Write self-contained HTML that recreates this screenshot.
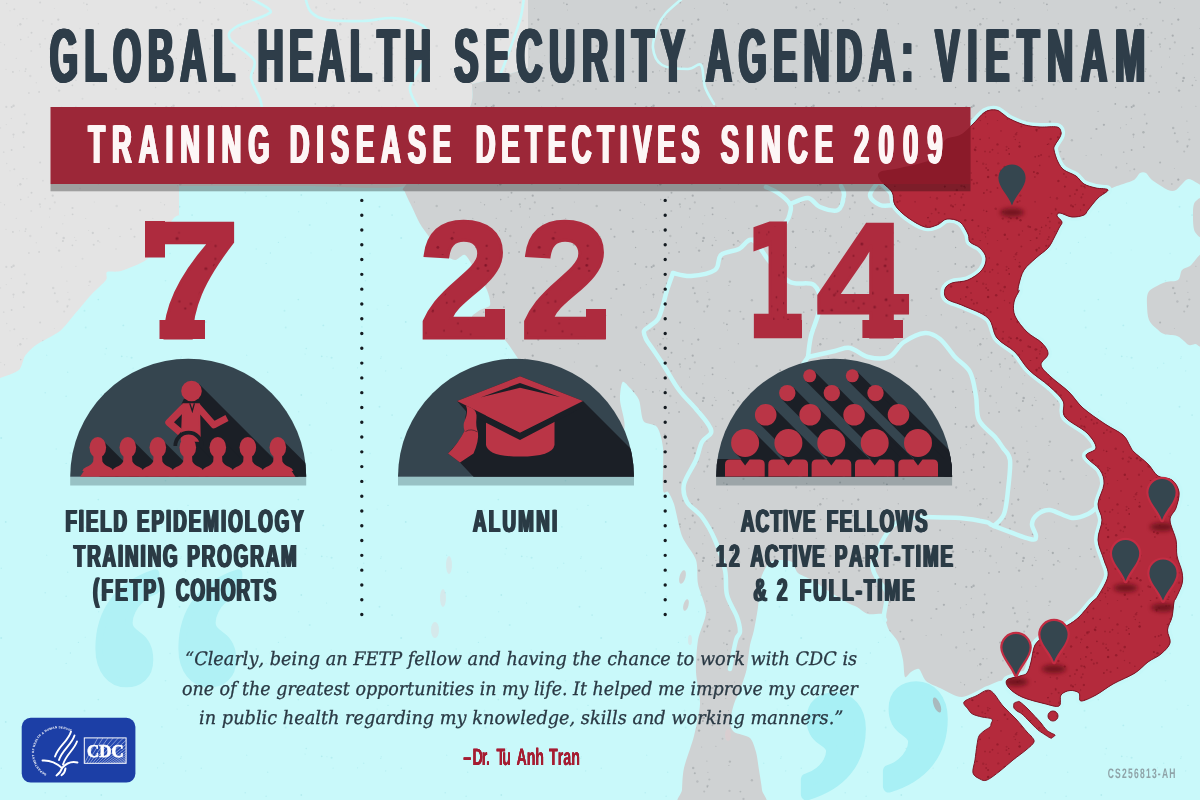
<!DOCTYPE html>
<html lang="en"><head><meta charset="utf-8"><title>Global Health Security Agenda: Vietnam</title>
<style>
html,body{margin:0;padding:0;background:#c9f9fa;}
body{width:1200px;height:800px;overflow:hidden;position:relative;font-family:"Liberation Sans",sans-serif;}
svg{position:absolute;left:0;top:0;display:block}
text{font-kerning:none;text-rendering:geometricPrecision}
.cb{font-family:"Liberation Sans",sans-serif;font-weight:bold}
.num{font-family:"DejaVu Serif","Liberation Serif",serif;font-weight:bold}
.q{font-family:"DejaVu Serif","Liberation Serif",serif;font-style:italic}
</style></head><body>
<svg width="1200" height="800" viewBox="0 0 1200 800">

<defs>
<pattern id="spk" width="160" height="160" patternUnits="userSpaceOnUse"><circle cx="51.8" cy="24.1" r="0.99" fill="#9a9fa2" opacity="0.40"/><circle cx="85.7" cy="58.5" r="0.54" fill="#9a9fa2" opacity="0.57"/><circle cx="6.0" cy="69.4" r="0.55" fill="#9a9fa2" opacity="0.41"/><circle cx="67.9" cy="132.3" r="0.59" fill="#9a9fa2" opacity="0.46"/><circle cx="100.4" cy="151.6" r="0.93" fill="#9a9fa2" opacity="0.52"/><circle cx="156.2" cy="7.5" r="1.14" fill="#9a9fa2" opacity="0.48"/><circle cx="23.1" cy="18.8" r="0.73" fill="#9a9fa2" opacity="0.68"/><circle cx="28.9" cy="93.1" r="0.98" fill="#9a9fa2" opacity="0.51"/><circle cx="87.6" cy="10.0" r="0.54" fill="#9a9fa2" opacity="0.45"/><circle cx="108.9" cy="68.4" r="0.74" fill="#9a9fa2" opacity="0.59"/><circle cx="72.5" cy="48.0" r="1.10" fill="#9a9fa2" opacity="0.64"/><circle cx="39.1" cy="91.9" r="0.89" fill="#9a9fa2" opacity="0.70"/><circle cx="116.7" cy="46.1" r="1.24" fill="#9a9fa2" opacity="0.42"/><circle cx="66.9" cy="121.1" r="0.61" fill="#9a9fa2" opacity="0.56"/><circle cx="6.3" cy="106.9" r="1.07" fill="#9a9fa2" opacity="0.59"/><circle cx="140.1" cy="50.2" r="1.02" fill="#9a9fa2" opacity="0.60"/><circle cx="92.8" cy="73.0" r="1.13" fill="#9a9fa2" opacity="0.73"/><circle cx="75.9" cy="106.3" r="0.55" fill="#9a9fa2" opacity="0.64"/><circle cx="103.5" cy="158.9" r="1.12" fill="#9a9fa2" opacity="0.48"/><circle cx="61.7" cy="107.0" r="0.52" fill="#9a9fa2" opacity="0.55"/><circle cx="26.9" cy="18.7" r="0.54" fill="#9a9fa2" opacity="0.66"/><circle cx="20.7" cy="39.6" r="0.79" fill="#9a9fa2" opacity="0.70"/><circle cx="12.9" cy="71.9" r="0.91" fill="#9a9fa2" opacity="0.71"/><circle cx="131.1" cy="138.2" r="0.71" fill="#9a9fa2" opacity="0.53"/><circle cx="57.4" cy="141.5" r="1.22" fill="#9a9fa2" opacity="0.43"/><circle cx="28.2" cy="37.1" r="0.68" fill="#9a9fa2" opacity="0.56"/><circle cx="94.3" cy="42.0" r="0.50" fill="#9a9fa2" opacity="0.53"/><circle cx="59.1" cy="90.6" r="1.21" fill="#9a9fa2" opacity="0.63"/><circle cx="82.5" cy="98.8" r="1.01" fill="#9a9fa2" opacity="0.40"/><circle cx="143.9" cy="124.8" r="1.16" fill="#9a9fa2" opacity="0.67"/><circle cx="62.8" cy="63.8" r="0.58" fill="#9a9fa2" opacity="0.61"/><circle cx="10.0" cy="10.8" r="0.66" fill="#9a9fa2" opacity="0.44"/><circle cx="54.4" cy="8.4" r="0.50" fill="#9a9fa2" opacity="0.43"/><circle cx="16.2" cy="58.2" r="0.52" fill="#9a9fa2" opacity="0.70"/><circle cx="98.3" cy="23.8" r="0.69" fill="#9a9fa2" opacity="0.51"/><circle cx="58.3" cy="19.7" r="1.14" fill="#9a9fa2" opacity="0.75"/><circle cx="74.6" cy="77.4" r="0.56" fill="#9a9fa2" opacity="0.41"/><circle cx="54.8" cy="42.4" r="1.12" fill="#9a9fa2" opacity="0.44"/><circle cx="3.7" cy="152.2" r="0.90" fill="#9a9fa2" opacity="0.43"/><circle cx="86.9" cy="4.3" r="0.90" fill="#9a9fa2" opacity="0.74"/><circle cx="138.1" cy="111.4" r="0.70" fill="#9a9fa2" opacity="0.51"/><circle cx="26.7" cy="123.5" r="0.90" fill="#9a9fa2" opacity="0.67"/><circle cx="52.7" cy="35.7" r="1.11" fill="#9a9fa2" opacity="0.74"/><circle cx="136.4" cy="129.0" r="1.11" fill="#9a9fa2" opacity="0.65"/><circle cx="36.3" cy="82.8" r="0.77" fill="#9a9fa2" opacity="0.39"/><circle cx="4.5" cy="44.7" r="0.69" fill="#9a9fa2" opacity="0.63"/><circle cx="153.0" cy="71.6" r="1.20" fill="#9a9fa2" opacity="0.75"/><circle cx="152.8" cy="58.3" r="0.67" fill="#9a9fa2" opacity="0.46"/><circle cx="31.5" cy="32.7" r="0.97" fill="#9a9fa2" opacity="0.71"/><circle cx="134.5" cy="76.7" r="0.99" fill="#9a9fa2" opacity="0.67"/><circle cx="13.6" cy="105.7" r="1.18" fill="#9a9fa2" opacity="0.67"/><circle cx="120.0" cy="76.5" r="0.63" fill="#9a9fa2" opacity="0.67"/><circle cx="53.2" cy="128.1" r="1.23" fill="#9a9fa2" opacity="0.52"/><circle cx="64.2" cy="151.5" r="1.04" fill="#9a9fa2" opacity="0.44"/><circle cx="20.3" cy="24.2" r="1.18" fill="#9a9fa2" opacity="0.68"/><circle cx="23.4" cy="132.2" r="1.24" fill="#9a9fa2" opacity="0.62"/><circle cx="56.1" cy="87.8" r="0.60" fill="#9a9fa2" opacity="0.38"/><circle cx="155.3" cy="103.9" r="0.89" fill="#9a9fa2" opacity="0.73"/><circle cx="69.4" cy="139.5" r="1.12" fill="#9a9fa2" opacity="0.45"/><circle cx="40.3" cy="46.9" r="0.68" fill="#9a9fa2" opacity="0.59"/><circle cx="41.5" cy="67.0" r="0.60" fill="#9a9fa2" opacity="0.72"/><circle cx="56.6" cy="73.3" r="0.94" fill="#9a9fa2" opacity="0.71"/><circle cx="67.3" cy="146.8" r="0.88" fill="#9a9fa2" opacity="0.57"/><circle cx="83.8" cy="3.0" r="0.83" fill="#9a9fa2" opacity="0.44"/><circle cx="0.6" cy="127.9" r="0.63" fill="#9a9fa2" opacity="0.55"/><circle cx="116.0" cy="89.0" r="0.74" fill="#9a9fa2" opacity="0.57"/><circle cx="88.9" cy="125.5" r="0.58" fill="#9a9fa2" opacity="0.59"/><circle cx="39.8" cy="44.3" r="1.08" fill="#9a9fa2" opacity="0.57"/><circle cx="89.9" cy="121.6" r="1.18" fill="#9a9fa2" opacity="0.54"/><circle cx="98.0" cy="80.9" r="0.88" fill="#9a9fa2" opacity="0.63"/><circle cx="72.4" cy="85.3" r="0.86" fill="#9a9fa2" opacity="0.73"/><circle cx="111.9" cy="140.2" r="1.21" fill="#9a9fa2" opacity="0.47"/><circle cx="89.5" cy="150.9" r="1.13" fill="#9a9fa2" opacity="0.43"/><circle cx="19.5" cy="70.7" r="0.55" fill="#9a9fa2" opacity="0.47"/><circle cx="11.7" cy="107.1" r="1.09" fill="#9a9fa2" opacity="0.71"/><circle cx="24.7" cy="114.6" r="1.00" fill="#9a9fa2" opacity="0.43"/><circle cx="141.3" cy="154.8" r="0.66" fill="#9a9fa2" opacity="0.73"/><circle cx="63.7" cy="78.0" r="1.24" fill="#9a9fa2" opacity="0.69"/><circle cx="25.8" cy="69.0" r="0.89" fill="#9a9fa2" opacity="0.50"/><circle cx="31.3" cy="51.0" r="1.04" fill="#9a9fa2" opacity="0.38"/><circle cx="88.6" cy="70.5" r="0.51" fill="#9a9fa2" opacity="0.50"/><circle cx="99.8" cy="82.0" r="0.55" fill="#9a9fa2" opacity="0.74"/><circle cx="126.1" cy="155.5" r="0.58" fill="#9a9fa2" opacity="0.47"/><circle cx="6.3" cy="124.6" r="0.70" fill="#9a9fa2" opacity="0.42"/><circle cx="67.6" cy="145.8" r="1.11" fill="#9a9fa2" opacity="0.47"/><circle cx="23.9" cy="147.1" r="0.93" fill="#9a9fa2" opacity="0.64"/><circle cx="14.3" cy="9.2" r="1.02" fill="#9a9fa2" opacity="0.53"/><circle cx="11.6" cy="150.1" r="0.98" fill="#9a9fa2" opacity="0.68"/><circle cx="13.4" cy="137.0" r="0.55" fill="#9a9fa2" opacity="0.70"/><circle cx="72.6" cy="54.3" r="0.91" fill="#9a9fa2" opacity="0.72"/><circle cx="42.9" cy="20.7" r="0.90" fill="#9a9fa2" opacity="0.46"/><circle cx="17.5" cy="25.8" r="0.54" fill="#9a9fa2" opacity="0.45"/><circle cx="49.9" cy="48.8" r="1.07" fill="#9a9fa2" opacity="0.48"/><circle cx="80.0" cy="28.5" r="0.76" fill="#9a9fa2" opacity="0.38"/><circle cx="40.1" cy="2.5" r="1.05" fill="#9a9fa2" opacity="0.58"/><circle cx="30.3" cy="76.0" r="1.20" fill="#9a9fa2" opacity="0.41"/><circle cx="131.0" cy="69.1" r="0.87" fill="#9a9fa2" opacity="0.69"/><circle cx="62.9" cy="81.1" r="1.02" fill="#9a9fa2" opacity="0.74"/><circle cx="54.8" cy="133.2" r="1.03" fill="#9a9fa2" opacity="0.61"/><circle cx="64.8" cy="55.6" r="0.54" fill="#9a9fa2" opacity="0.42"/><circle cx="11.3" cy="118.5" r="0.69" fill="#9a9fa2" opacity="0.44"/><circle cx="13.5" cy="134.6" r="1.15" fill="#9a9fa2" opacity="0.63"/><circle cx="45.1" cy="38.8" r="0.72" fill="#9a9fa2" opacity="0.55"/><circle cx="25.2" cy="71.3" r="0.70" fill="#9a9fa2" opacity="0.74"/><circle cx="155.6" cy="87.5" r="0.68" fill="#9a9fa2" opacity="0.74"/><circle cx="49.5" cy="57.1" r="0.50" fill="#9a9fa2" opacity="0.52"/><circle cx="75.9" cy="80.4" r="0.65" fill="#9a9fa2" opacity="0.56"/><circle cx="0.8" cy="42.3" r="0.57" fill="#9a9fa2" opacity="0.52"/><circle cx="6.7" cy="3.6" r="0.73" fill="#9a9fa2" opacity="0.46"/><circle cx="93.7" cy="84.7" r="1.06" fill="#9a9fa2" opacity="0.62"/></pattern>
<pattern id="spkr" width="120" height="120" patternUnits="userSpaceOnUse"><circle cx="85.9" cy="105.5" r="0.93" fill="#8e1727" opacity="0.60"/><circle cx="118.2" cy="17.9" r="1.13" fill="#8e1727" opacity="0.74"/><circle cx="5.3" cy="100.2" r="1.24" fill="#8e1727" opacity="0.73"/><circle cx="88.1" cy="97.5" r="0.78" fill="#8e1727" opacity="0.69"/><circle cx="60.5" cy="100.2" r="1.18" fill="#8e1727" opacity="0.82"/><circle cx="70.1" cy="107.1" r="1.11" fill="#8e1727" opacity="0.76"/><circle cx="27.6" cy="3.7" r="0.78" fill="#8e1727" opacity="0.61"/><circle cx="12.6" cy="100.3" r="1.04" fill="#8e1727" opacity="0.73"/><circle cx="75.1" cy="81.7" r="0.99" fill="#8e1727" opacity="0.45"/><circle cx="95.7" cy="89.8" r="1.00" fill="#8e1727" opacity="0.69"/><circle cx="79.1" cy="7.9" r="1.14" fill="#8e1727" opacity="0.56"/><circle cx="8.9" cy="31.9" r="1.14" fill="#8e1727" opacity="0.54"/><circle cx="88.8" cy="117.1" r="1.00" fill="#8e1727" opacity="0.62"/><circle cx="57.5" cy="82.0" r="1.16" fill="#8e1727" opacity="0.73"/><circle cx="77.1" cy="9.3" r="0.79" fill="#8e1727" opacity="0.56"/><circle cx="89.2" cy="36.5" r="1.04" fill="#8e1727" opacity="0.46"/><circle cx="7.3" cy="32.3" r="1.10" fill="#8e1727" opacity="0.76"/><circle cx="81.1" cy="34.9" r="1.01" fill="#8e1727" opacity="0.66"/><circle cx="56.0" cy="14.2" r="1.24" fill="#8e1727" opacity="0.54"/><circle cx="117.4" cy="112.4" r="0.71" fill="#8e1727" opacity="0.66"/><circle cx="98.4" cy="116.2" r="0.97" fill="#8e1727" opacity="0.57"/><circle cx="25.2" cy="113.5" r="0.83" fill="#8e1727" opacity="0.71"/><circle cx="17.0" cy="62.9" r="1.27" fill="#8e1727" opacity="0.51"/><circle cx="98.4" cy="61.0" r="1.23" fill="#8e1727" opacity="0.77"/><circle cx="27.8" cy="107.7" r="0.99" fill="#8e1727" opacity="0.46"/><circle cx="0.4" cy="59.0" r="0.97" fill="#8e1727" opacity="0.59"/><circle cx="16.9" cy="41.3" r="0.89" fill="#8e1727" opacity="0.83"/><circle cx="0.2" cy="90.1" r="1.20" fill="#8e1727" opacity="0.50"/><circle cx="111.2" cy="85.6" r="1.24" fill="#8e1727" opacity="0.58"/><circle cx="44.7" cy="47.1" r="1.30" fill="#8e1727" opacity="0.72"/><circle cx="43.3" cy="51.4" r="0.87" fill="#8e1727" opacity="0.47"/><circle cx="12.2" cy="100.2" r="0.87" fill="#8e1727" opacity="0.87"/><circle cx="29.9" cy="31.9" r="1.01" fill="#8e1727" opacity="0.54"/><circle cx="44.8" cy="114.7" r="1.23" fill="#8e1727" opacity="0.82"/><circle cx="75.7" cy="109.6" r="1.26" fill="#8e1727" opacity="0.70"/><circle cx="86.3" cy="5.9" r="1.14" fill="#8e1727" opacity="0.65"/><circle cx="90.3" cy="77.3" r="0.87" fill="#8e1727" opacity="0.47"/><circle cx="111.2" cy="15.3" r="0.98" fill="#8e1727" opacity="0.60"/><circle cx="35.7" cy="88.7" r="1.29" fill="#8e1727" opacity="0.57"/><circle cx="78.7" cy="36.1" r="1.03" fill="#8e1727" opacity="0.63"/><circle cx="20.1" cy="19.4" r="0.82" fill="#8e1727" opacity="0.86"/><circle cx="59.6" cy="26.4" r="1.24" fill="#8e1727" opacity="0.90"/><circle cx="54.0" cy="16.8" r="0.82" fill="#8e1727" opacity="0.49"/><circle cx="41.0" cy="10.9" r="0.84" fill="#8e1727" opacity="0.57"/><circle cx="68.4" cy="106.5" r="1.15" fill="#8e1727" opacity="0.64"/><circle cx="49.7" cy="62.9" r="0.93" fill="#8e1727" opacity="0.60"/><circle cx="7.4" cy="33.3" r="1.28" fill="#8e1727" opacity="0.51"/><circle cx="60.4" cy="75.6" r="1.22" fill="#8e1727" opacity="0.55"/><circle cx="32.5" cy="29.8" r="0.94" fill="#8e1727" opacity="0.65"/><circle cx="114.5" cy="101.8" r="1.22" fill="#8e1727" opacity="0.46"/><circle cx="3.9" cy="85.1" r="1.24" fill="#8e1727" opacity="0.66"/><circle cx="70.5" cy="0.0" r="0.93" fill="#8e1727" opacity="0.87"/><circle cx="99.1" cy="102.7" r="1.28" fill="#8e1727" opacity="0.56"/><circle cx="13.1" cy="18.5" r="1.01" fill="#8e1727" opacity="0.76"/><circle cx="113.0" cy="86.6" r="1.09" fill="#8e1727" opacity="0.79"/><circle cx="54.9" cy="66.2" r="0.72" fill="#8e1727" opacity="0.80"/><circle cx="27.9" cy="110.4" r="1.09" fill="#8e1727" opacity="0.59"/><circle cx="15.4" cy="30.2" r="1.08" fill="#8e1727" opacity="0.76"/><circle cx="13.5" cy="8.4" r="1.01" fill="#8e1727" opacity="0.71"/><circle cx="46.6" cy="26.8" r="1.06" fill="#8e1727" opacity="0.45"/><circle cx="36.2" cy="55.3" r="1.28" fill="#8e1727" opacity="0.74"/><circle cx="106.1" cy="57.0" r="0.84" fill="#8e1727" opacity="0.56"/><circle cx="115.3" cy="84.6" r="0.88" fill="#8e1727" opacity="0.46"/><circle cx="59.8" cy="80.9" r="0.95" fill="#8e1727" opacity="0.57"/><circle cx="80.1" cy="111.0" r="0.84" fill="#8e1727" opacity="0.47"/><circle cx="40.6" cy="50.5" r="1.11" fill="#8e1727" opacity="0.54"/><circle cx="95.6" cy="88.7" r="1.00" fill="#8e1727" opacity="0.54"/><circle cx="116.4" cy="37.4" r="1.19" fill="#8e1727" opacity="0.55"/><circle cx="26.6" cy="91.3" r="0.88" fill="#8e1727" opacity="0.88"/><circle cx="59.5" cy="22.5" r="0.83" fill="#8e1727" opacity="0.64"/><circle cx="79.8" cy="113.9" r="0.79" fill="#8e1727" opacity="0.63"/><circle cx="25.6" cy="116.9" r="0.79" fill="#8e1727" opacity="0.47"/><circle cx="7.2" cy="47.2" r="1.24" fill="#8e1727" opacity="0.85"/><circle cx="87.9" cy="119.7" r="1.26" fill="#8e1727" opacity="0.60"/><circle cx="22.3" cy="112.3" r="1.15" fill="#8e1727" opacity="0.46"/><circle cx="79.7" cy="45.4" r="0.92" fill="#8e1727" opacity="0.60"/><circle cx="20.3" cy="0.3" r="0.87" fill="#8e1727" opacity="0.61"/><circle cx="114.7" cy="14.8" r="1.28" fill="#8e1727" opacity="0.54"/><circle cx="42.8" cy="98.6" r="1.19" fill="#8e1727" opacity="0.64"/><circle cx="5.9" cy="56.8" r="0.92" fill="#8e1727" opacity="0.86"/><circle cx="23.2" cy="43.7" r="1.24" fill="#8e1727" opacity="0.46"/><circle cx="49.3" cy="97.4" r="1.16" fill="#8e1727" opacity="0.47"/><circle cx="4.2" cy="7.5" r="1.25" fill="#8e1727" opacity="0.57"/><circle cx="89.7" cy="107.8" r="0.90" fill="#8e1727" opacity="0.57"/><circle cx="114.9" cy="74.0" r="0.86" fill="#8e1727" opacity="0.77"/><circle cx="38.0" cy="33.1" r="0.70" fill="#8e1727" opacity="0.79"/><circle cx="110.0" cy="76.1" r="1.27" fill="#8e1727" opacity="0.46"/><circle cx="28.1" cy="57.0" r="1.27" fill="#8e1727" opacity="0.88"/><circle cx="46.4" cy="30.1" r="0.96" fill="#8e1727" opacity="0.67"/><circle cx="111.4" cy="22.0" r="1.18" fill="#8e1727" opacity="0.78"/><circle cx="98.7" cy="92.7" r="1.06" fill="#8e1727" opacity="0.60"/><circle cx="38.3" cy="43.4" r="1.17" fill="#8e1727" opacity="0.49"/><circle cx="23.7" cy="90.3" r="0.85" fill="#8e1727" opacity="0.48"/><circle cx="4.1" cy="66.3" r="0.90" fill="#8e1727" opacity="0.89"/><circle cx="106.0" cy="118.5" r="0.86" fill="#8e1727" opacity="0.49"/><circle cx="11.6" cy="59.8" r="1.13" fill="#8e1727" opacity="0.65"/><circle cx="28.1" cy="50.0" r="1.07" fill="#8e1727" opacity="0.75"/><circle cx="89.8" cy="101.6" r="1.10" fill="#8e1727" opacity="0.50"/><circle cx="100.9" cy="35.3" r="1.04" fill="#8e1727" opacity="0.62"/><circle cx="88.6" cy="23.9" r="0.85" fill="#8e1727" opacity="0.56"/><circle cx="18.4" cy="106.1" r="1.05" fill="#8e1727" opacity="0.60"/><circle cx="47.5" cy="119.1" r="1.00" fill="#8e1727" opacity="0.55"/><circle cx="97.0" cy="78.4" r="1.29" fill="#8e1727" opacity="0.50"/><circle cx="57.0" cy="98.3" r="1.20" fill="#8e1727" opacity="0.86"/><circle cx="4.8" cy="35.2" r="0.77" fill="#8e1727" opacity="0.54"/><circle cx="116.8" cy="70.0" r="1.26" fill="#8e1727" opacity="0.62"/><circle cx="103.9" cy="53.9" r="0.86" fill="#8e1727" opacity="0.80"/><circle cx="113.5" cy="12.7" r="1.06" fill="#8e1727" opacity="0.73"/><circle cx="26.1" cy="44.2" r="0.78" fill="#8e1727" opacity="0.54"/><circle cx="30.6" cy="71.9" r="1.09" fill="#8e1727" opacity="0.54"/><circle cx="1.4" cy="39.3" r="1.11" fill="#8e1727" opacity="0.53"/><circle cx="37.5" cy="24.4" r="1.18" fill="#8e1727" opacity="0.70"/><circle cx="7.6" cy="12.2" r="0.94" fill="#8e1727" opacity="0.70"/><circle cx="76.7" cy="10.9" r="0.80" fill="#8e1727" opacity="0.76"/><circle cx="49.2" cy="34.0" r="0.88" fill="#8e1727" opacity="0.88"/><circle cx="37.5" cy="68.0" r="0.91" fill="#8e1727" opacity="0.64"/><circle cx="103.7" cy="119.6" r="0.92" fill="#8e1727" opacity="0.54"/><circle cx="87.4" cy="24.4" r="0.70" fill="#8e1727" opacity="0.86"/><circle cx="50.9" cy="98.4" r="0.94" fill="#8e1727" opacity="0.85"/><circle cx="55.3" cy="19.5" r="0.71" fill="#8e1727" opacity="0.70"/><circle cx="76.9" cy="109.2" r="0.75" fill="#8e1727" opacity="0.73"/><circle cx="44.5" cy="60.5" r="0.79" fill="#8e1727" opacity="0.58"/><circle cx="62.5" cy="111.1" r="0.77" fill="#8e1727" opacity="0.67"/><circle cx="96.6" cy="116.0" r="0.82" fill="#8e1727" opacity="0.51"/><circle cx="113.2" cy="117.1" r="0.99" fill="#8e1727" opacity="0.47"/><circle cx="111.1" cy="46.5" r="1.24" fill="#8e1727" opacity="0.73"/><circle cx="98.9" cy="19.2" r="1.17" fill="#8e1727" opacity="0.55"/><circle cx="48.5" cy="101.6" r="1.20" fill="#8e1727" opacity="0.53"/><circle cx="26.2" cy="48.0" r="1.01" fill="#8e1727" opacity="0.62"/><circle cx="14.8" cy="29.6" r="1.13" fill="#8e1727" opacity="0.85"/><circle cx="4.9" cy="67.5" r="1.15" fill="#8e1727" opacity="0.47"/><circle cx="100.6" cy="14.1" r="1.06" fill="#8e1727" opacity="0.70"/><circle cx="75.2" cy="36.7" r="0.95" fill="#8e1727" opacity="0.71"/><circle cx="51.1" cy="79.1" r="0.97" fill="#8e1727" opacity="0.65"/><circle cx="2.8" cy="74.3" r="0.99" fill="#8e1727" opacity="0.56"/><circle cx="91.6" cy="93.6" r="0.97" fill="#8e1727" opacity="0.53"/><circle cx="56.8" cy="12.8" r="0.78" fill="#8e1727" opacity="0.64"/><circle cx="11.0" cy="53.0" r="1.01" fill="#8e1727" opacity="0.47"/><circle cx="76.4" cy="9.9" r="1.14" fill="#8e1727" opacity="0.80"/><circle cx="61.4" cy="6.5" r="1.00" fill="#8e1727" opacity="0.62"/><circle cx="114.1" cy="16.3" r="1.21" fill="#8e1727" opacity="0.90"/><circle cx="87.9" cy="97.8" r="0.82" fill="#8e1727" opacity="0.89"/><circle cx="59.0" cy="114.8" r="1.25" fill="#8e1727" opacity="0.52"/><circle cx="94.6" cy="111.7" r="0.74" fill="#8e1727" opacity="0.61"/><circle cx="90.7" cy="19.1" r="1.24" fill="#8e1727" opacity="0.57"/><circle cx="97.9" cy="17.2" r="1.00" fill="#8e1727" opacity="0.86"/><circle cx="25.0" cy="31.5" r="1.00" fill="#8e1727" opacity="0.59"/><circle cx="4.4" cy="21.9" r="0.80" fill="#8e1727" opacity="0.87"/><circle cx="81.6" cy="107.4" r="0.80" fill="#8e1727" opacity="0.80"/><circle cx="13.8" cy="63.7" r="1.08" fill="#8e1727" opacity="0.61"/><circle cx="104.8" cy="66.6" r="1.05" fill="#8e1727" opacity="0.85"/><circle cx="12.6" cy="119.2" r="1.08" fill="#8e1727" opacity="0.63"/><circle cx="95.7" cy="31.8" r="1.29" fill="#8e1727" opacity="0.71"/><circle cx="43.2" cy="91.8" r="0.97" fill="#8e1727" opacity="0.53"/><circle cx="89.2" cy="5.8" r="1.19" fill="#8e1727" opacity="0.56"/><circle cx="76.7" cy="118.1" r="1.05" fill="#8e1727" opacity="0.75"/><circle cx="37.5" cy="0.2" r="0.72" fill="#8e1727" opacity="0.52"/><circle cx="73.9" cy="51.9" r="1.01" fill="#8e1727" opacity="0.85"/><circle cx="15.8" cy="27.3" r="1.09" fill="#8e1727" opacity="0.46"/><circle cx="0.3" cy="42.6" r="0.76" fill="#8e1727" opacity="0.61"/><circle cx="26.9" cy="70.0" r="1.05" fill="#8e1727" opacity="0.54"/><circle cx="74.9" cy="57.0" r="0.78" fill="#8e1727" opacity="0.87"/><circle cx="29.2" cy="17.9" r="0.76" fill="#8e1727" opacity="0.74"/><circle cx="104.6" cy="93.9" r="0.94" fill="#8e1727" opacity="0.57"/><circle cx="1.4" cy="77.4" r="1.04" fill="#8e1727" opacity="0.61"/><circle cx="77.5" cy="53.3" r="1.26" fill="#8e1727" opacity="0.78"/><circle cx="29.8" cy="108.4" r="0.73" fill="#8e1727" opacity="0.69"/><circle cx="48.7" cy="28.5" r="0.74" fill="#8e1727" opacity="0.80"/><circle cx="1.5" cy="66.1" r="1.26" fill="#8e1727" opacity="0.51"/><circle cx="23.9" cy="73.0" r="1.00" fill="#8e1727" opacity="0.74"/></pattern>
<pattern id="spkn" width="70" height="70" patternUnits="userSpaceOnUse"><rect x="-2" y="-2" width="74" height="74" fill="#ae2b3e"/><circle cx="56.9" cy="12.2" r="0.62" fill="#7d1326" opacity="0.62"/><circle cx="3.4" cy="62.3" r="0.81" fill="#7d1326" opacity="0.81"/><circle cx="0.4" cy="59.1" r="0.80" fill="#7d1326" opacity="0.70"/><circle cx="51.9" cy="31.7" r="0.59" fill="#7d1326" opacity="0.53"/><circle cx="16.3" cy="2.7" r="0.63" fill="#7d1326" opacity="0.83"/><circle cx="48.7" cy="59.2" r="0.78" fill="#7d1326" opacity="0.60"/><circle cx="38.8" cy="30.5" r="0.82" fill="#7d1326" opacity="0.72"/><circle cx="18.6" cy="44.9" r="0.89" fill="#7d1326" opacity="0.58"/><circle cx="61.6" cy="1.1" r="0.60" fill="#7d1326" opacity="0.59"/><circle cx="52.1" cy="66.1" r="0.80" fill="#7d1326" opacity="0.63"/><circle cx="61.6" cy="23.0" r="0.60" fill="#7d1326" opacity="0.91"/><circle cx="44.1" cy="48.5" r="0.77" fill="#7d1326" opacity="0.94"/><circle cx="32.9" cy="58.8" r="0.78" fill="#7d1326" opacity="0.88"/><circle cx="30.6" cy="50.7" r="0.73" fill="#7d1326" opacity="0.62"/><circle cx="14.8" cy="43.6" r="0.53" fill="#7d1326" opacity="0.91"/><circle cx="10.1" cy="1.9" r="0.54" fill="#7d1326" opacity="0.92"/><circle cx="24.1" cy="9.9" r="0.51" fill="#7d1326" opacity="0.49"/><circle cx="48.5" cy="44.4" r="0.78" fill="#7d1326" opacity="0.82"/><circle cx="4.6" cy="41.3" r="0.65" fill="#7d1326" opacity="0.86"/><circle cx="57.4" cy="62.4" r="0.53" fill="#7d1326" opacity="0.89"/><circle cx="64.0" cy="66.1" r="0.54" fill="#7d1326" opacity="0.57"/><circle cx="7.8" cy="2.4" r="0.84" fill="#7d1326" opacity="0.86"/><circle cx="44.4" cy="57.8" r="0.75" fill="#7d1326" opacity="0.61"/><circle cx="7.0" cy="6.9" r="0.80" fill="#7d1326" opacity="0.57"/><circle cx="22.3" cy="29.7" r="0.51" fill="#7d1326" opacity="0.60"/><circle cx="19.8" cy="50.1" r="0.65" fill="#7d1326" opacity="0.63"/><circle cx="67.5" cy="35.3" r="0.84" fill="#7d1326" opacity="0.77"/><circle cx="2.2" cy="28.9" r="0.67" fill="#7d1326" opacity="0.84"/><circle cx="24.3" cy="49.3" r="0.72" fill="#7d1326" opacity="0.58"/><circle cx="60.4" cy="6.4" r="0.83" fill="#7d1326" opacity="0.56"/><circle cx="0.1" cy="14.1" r="0.80" fill="#7d1326" opacity="0.94"/><circle cx="0.3" cy="34.4" r="0.70" fill="#7d1326" opacity="0.85"/><circle cx="12.9" cy="34.6" r="0.64" fill="#7d1326" opacity="0.87"/><circle cx="18.2" cy="66.1" r="0.61" fill="#7d1326" opacity="0.58"/><circle cx="49.0" cy="34.9" r="0.54" fill="#7d1326" opacity="0.78"/><circle cx="5.7" cy="55.2" r="0.78" fill="#7d1326" opacity="0.85"/><circle cx="44.0" cy="24.9" r="0.66" fill="#7d1326" opacity="0.66"/><circle cx="62.3" cy="6.0" r="0.86" fill="#7d1326" opacity="0.49"/><circle cx="14.4" cy="18.4" r="0.86" fill="#7d1326" opacity="0.71"/><circle cx="26.6" cy="61.9" r="0.59" fill="#7d1326" opacity="0.69"/><circle cx="37.2" cy="52.8" r="0.80" fill="#7d1326" opacity="0.78"/><circle cx="24.4" cy="22.9" r="0.56" fill="#7d1326" opacity="0.88"/><circle cx="46.3" cy="51.9" r="0.57" fill="#7d1326" opacity="0.68"/><circle cx="54.1" cy="40.5" r="0.55" fill="#7d1326" opacity="0.69"/><circle cx="62.0" cy="16.7" r="0.58" fill="#7d1326" opacity="0.62"/><circle cx="49.2" cy="59.1" r="0.56" fill="#7d1326" opacity="0.55"/><circle cx="17.3" cy="22.9" r="0.71" fill="#7d1326" opacity="0.55"/><circle cx="23.0" cy="13.2" r="0.89" fill="#7d1326" opacity="0.82"/><circle cx="7.1" cy="67.4" r="0.54" fill="#7d1326" opacity="0.66"/><circle cx="68.9" cy="55.6" r="0.79" fill="#7d1326" opacity="0.68"/><circle cx="13.7" cy="44.7" r="0.54" fill="#7d1326" opacity="0.57"/><circle cx="27.2" cy="2.4" r="0.66" fill="#7d1326" opacity="0.85"/><circle cx="48.5" cy="35.0" r="0.75" fill="#7d1326" opacity="0.70"/><circle cx="9.9" cy="42.3" r="0.66" fill="#7d1326" opacity="0.83"/><circle cx="63.6" cy="30.1" r="0.73" fill="#7d1326" opacity="0.83"/><circle cx="29.5" cy="16.0" r="0.79" fill="#7d1326" opacity="0.89"/><circle cx="54.2" cy="49.0" r="0.84" fill="#7d1326" opacity="0.80"/><circle cx="44.9" cy="31.8" r="0.63" fill="#7d1326" opacity="0.77"/><circle cx="6.9" cy="29.4" r="0.81" fill="#7d1326" opacity="0.81"/><circle cx="44.1" cy="17.5" r="0.67" fill="#7d1326" opacity="0.69"/><circle cx="43.5" cy="28.7" r="0.77" fill="#7d1326" opacity="0.92"/><circle cx="12.8" cy="45.8" r="0.81" fill="#7d1326" opacity="0.66"/><circle cx="34.3" cy="68.2" r="0.52" fill="#7d1326" opacity="0.73"/><circle cx="11.3" cy="54.7" r="0.88" fill="#7d1326" opacity="0.72"/><circle cx="7.1" cy="40.2" r="0.72" fill="#7d1326" opacity="0.82"/><circle cx="35.9" cy="44.7" r="0.83" fill="#7d1326" opacity="0.72"/><circle cx="28.7" cy="66.4" r="0.58" fill="#7d1326" opacity="0.80"/><circle cx="27.5" cy="53.4" r="0.55" fill="#7d1326" opacity="0.94"/><circle cx="24.9" cy="4.0" r="0.61" fill="#7d1326" opacity="0.66"/><circle cx="0.9" cy="29.3" r="0.67" fill="#7d1326" opacity="0.81"/></pattern>
<pattern id="spks" width="200" height="200" patternUnits="userSpaceOnUse"><circle cx="70.4" cy="53.0" r="0.63" fill="#a5e6ea" opacity="0.61"/><circle cx="188.0" cy="105.4" r="0.63" fill="#a5e6ea" opacity="0.63"/><circle cx="78.4" cy="42.4" r="0.58" fill="#a5e6ea" opacity="0.62"/><circle cx="161.9" cy="126.9" r="0.78" fill="#a5e6ea" opacity="0.55"/><circle cx="45.2" cy="192.8" r="0.71" fill="#a5e6ea" opacity="0.57"/><circle cx="163.7" cy="163.2" r="0.78" fill="#a5e6ea" opacity="0.45"/><circle cx="109.7" cy="25.0" r="1.00" fill="#a5e6ea" opacity="0.47"/><circle cx="170.1" cy="53.5" r="0.73" fill="#a5e6ea" opacity="0.44"/><circle cx="85.2" cy="37.2" r="0.50" fill="#a5e6ea" opacity="0.60"/><circle cx="56.2" cy="49.0" r="0.68" fill="#a5e6ea" opacity="0.52"/><circle cx="85.7" cy="127.5" r="0.90" fill="#a5e6ea" opacity="0.48"/><circle cx="185.7" cy="170.9" r="0.53" fill="#a5e6ea" opacity="0.64"/><circle cx="181.2" cy="156.8" r="0.58" fill="#a5e6ea" opacity="0.64"/><circle cx="126.6" cy="3.0" r="0.51" fill="#a5e6ea" opacity="0.68"/><circle cx="131.2" cy="50.0" r="0.56" fill="#a5e6ea" opacity="0.40"/><circle cx="46.7" cy="155.3" r="0.71" fill="#a5e6ea" opacity="0.40"/><circle cx="180.8" cy="158.3" r="0.60" fill="#a5e6ea" opacity="0.66"/><circle cx="121.7" cy="156.3" r="0.90" fill="#a5e6ea" opacity="0.66"/><circle cx="157.6" cy="167.8" r="0.62" fill="#a5e6ea" opacity="0.59"/><circle cx="106.2" cy="148.4" r="0.76" fill="#a5e6ea" opacity="0.66"/><circle cx="111.0" cy="52.9" r="0.64" fill="#a5e6ea" opacity="0.40"/><circle cx="98.6" cy="11.7" r="0.78" fill="#a5e6ea" opacity="0.40"/><circle cx="98.3" cy="99.6" r="0.82" fill="#a5e6ea" opacity="0.65"/><circle cx="1.3" cy="168.2" r="0.78" fill="#a5e6ea" opacity="0.55"/><circle cx="133.1" cy="168.1" r="0.72" fill="#a5e6ea" opacity="0.50"/><circle cx="192.1" cy="15.1" r="0.88" fill="#a5e6ea" opacity="0.57"/><circle cx="5.7" cy="121.9" r="0.91" fill="#a5e6ea" opacity="0.68"/><circle cx="66.1" cy="196.3" r="0.81" fill="#a5e6ea" opacity="0.52"/><circle cx="179.5" cy="6.8" r="0.93" fill="#a5e6ea" opacity="0.57"/><circle cx="67.7" cy="172.3" r="0.72" fill="#a5e6ea" opacity="0.52"/><circle cx="105.1" cy="154.1" r="0.63" fill="#a5e6ea" opacity="0.50"/><circle cx="84.5" cy="110.8" r="1.00" fill="#a5e6ea" opacity="0.45"/><circle cx="165.5" cy="80.7" r="0.80" fill="#a5e6ea" opacity="0.45"/><circle cx="101.3" cy="195.0" r="0.89" fill="#a5e6ea" opacity="0.63"/><circle cx="66.2" cy="63.4" r="0.68" fill="#a5e6ea" opacity="0.56"/><circle cx="127.0" cy="156.8" r="0.52" fill="#a5e6ea" opacity="0.60"/><circle cx="177.1" cy="109.1" r="0.53" fill="#a5e6ea" opacity="0.46"/><circle cx="1.2" cy="38.0" r="1.05" fill="#a5e6ea" opacity="0.56"/><circle cx="131.6" cy="157.8" r="1.05" fill="#a5e6ea" opacity="0.56"/><circle cx="123.3" cy="125.4" r="0.92" fill="#a5e6ea" opacity="0.56"/></pattern>
<filter id="t18" x="-2%" y="-10%" width="104%" height="120%"><feOffset in="SourceGraphic" dx="-1.50" result="o0"/><feOffset in="SourceGraphic" dx="-1.00" result="o1"/><feOffset in="SourceGraphic" dx="-0.50" result="o2"/><feOffset in="SourceGraphic" dx="0.50" result="o3"/><feOffset in="SourceGraphic" dx="1.00" result="o4"/><feOffset in="SourceGraphic" dx="1.50" result="o5"/><feMerge><feMergeNode in="o0"/><feMergeNode in="o1"/><feMergeNode in="o2"/><feMergeNode in="o3"/><feMergeNode in="o4"/><feMergeNode in="o5"/><feMergeNode in="SourceGraphic"/></feMerge></filter>
<filter id="t13" x="-2%" y="-10%" width="104%" height="120%"><feOffset in="SourceGraphic" dx="-1.00" result="o0"/><feOffset in="SourceGraphic" dx="-0.50" result="o1"/><feOffset in="SourceGraphic" dx="0.50" result="o2"/><feOffset in="SourceGraphic" dx="1.00" result="o3"/><feMerge><feMergeNode in="o0"/><feMergeNode in="o1"/><feMergeNode in="o2"/><feMergeNode in="o3"/><feMergeNode in="SourceGraphic"/></feMerge></filter>
<filter id="t09" x="-2%" y="-10%" width="104%" height="120%"><feOffset in="SourceGraphic" dx="-0.75" result="o0"/><feOffset in="SourceGraphic" dx="-0.38" result="o1"/><feOffset in="SourceGraphic" dx="0.38" result="o2"/><feOffset in="SourceGraphic" dx="0.75" result="o3"/><feMerge><feMergeNode in="o0"/><feMergeNode in="o1"/><feMergeNode in="o2"/><feMergeNode in="o3"/><feMergeNode in="SourceGraphic"/></feMerge></filter>
<filter id="t06" x="-2%" y="-10%" width="104%" height="120%"><feOffset in="SourceGraphic" dx="-0.40" result="o0"/><feOffset in="SourceGraphic" dx="0.40" result="o1"/><feMerge><feMergeNode in="o0"/><feMergeNode in="o1"/><feMergeNode in="SourceGraphic"/></feMerge></filter>
<filter id="blur3" x="-50%" y="-100%" width="200%" height="300%"><feGaussianBlur stdDeviation="2.2"/></filter>
<clipPath id="cban"><rect x="50.5" y="107" width="920" height="77"/></clipPath>
</defs>
<rect width="1200" height="800" fill="#c9f9fa"/>
<rect width="1200" height="800" fill="url(#spks)"/>
<path d="M0.0,-5.0 C0.6,-49.7 -61.6,-5.0 0.0,-5.0 C61.6,-5.0 466.4,-5.0 528.0,-5.0 C589.6,-5.0 528.0,-9.1 528.0,-5.0 C528.0,-0.9 528.0,21.5 528.0,30.0 C528.0,38.5 528.0,63.6 528.0,68.0 C528.0,72.4 531.3,67.0 528.0,68.0 C524.7,69.0 506.5,75.1 500.0,77.0 C493.5,78.9 475.3,83.2 472.0,84.0 C468.7,84.8 472.2,81.3 472.0,84.0 C471.8,86.7 473.7,99.3 470.0,107.0 C466.3,114.7 447.6,140.8 440.0,150.0 C432.4,159.2 421.3,181.8 405.0,186.0 C388.7,190.2 326.4,186.0 300.0,186.0 C273.6,186.0 193.1,186.0 179.0,186.0 C164.9,186.0 179.0,182.6 179.0,186.0 C179.0,189.4 179.0,211.6 179.0,215.0 C179.0,218.4 179.7,214.5 179.0,215.0 C178.3,215.5 175.2,216.1 173.0,219.0 C170.8,221.9 163.2,235.2 160.0,240.0 C156.8,244.8 150.6,256.4 146.0,260.0 C141.4,263.6 125.5,269.6 121.0,271.0 C116.5,272.4 108.8,270.9 107.0,272.0 C105.2,273.1 107.9,277.3 106.0,280.0 C104.1,282.7 94.7,290.9 91.0,295.0 C87.3,299.1 77.6,310.8 74.0,315.0 C70.4,319.2 64.4,327.5 60.0,331.0 C55.6,334.5 40.1,342.1 36.0,345.0 C31.9,347.9 27.0,353.1 25.0,356.0 C23.0,358.9 21.9,367.4 19.0,370.0 C16.1,372.6 2.8,377.1 0.0,378.0 C-2.8,378.9 -5.0,422.7 -5.0,378.0 C-5.0,333.3 -0.6,39.7 0.0,-5.0Z" fill="#e4e4e4"/>
<path d="M528.0,-5.0 C528.0,-5.0 437.7,-5.0 528.0,-5.0 C618.3,-5.0 1114.7,-5.0 1205.0,-5.0 C1295.3,-5.0 1205.0,-30.7 1205.0,-5.0 C1205.0,20.7 1205.0,162.3 1205.0,188.0 C1205.0,213.7 1206.7,189.1 1205.0,188.0 C1203.3,186.9 1194.5,181.1 1192.0,180.0 C1189.5,178.9 1188.1,178.7 1186.0,180.0 C1183.9,181.3 1178.4,188.7 1176.0,190.0 C1173.6,191.3 1171.2,191.3 1168.0,190.0 C1164.8,188.7 1154.9,182.3 1152.0,180.0 C1149.1,177.7 1147.6,173.9 1146.0,173.0 C1144.4,172.1 1141.6,172.1 1140.0,173.0 C1138.4,173.9 1136.7,178.4 1134.0,180.0 C1131.3,181.6 1123.5,183.7 1120.0,185.0 C1116.5,186.3 1116.0,186.0 1108.0,190.0 C1100.0,194.0 1071.1,207.0 1060.0,215.0 C1048.9,223.0 1032.6,238.7 1025.0,250.0 C1017.4,261.3 1004.7,288.7 1003.0,300.0 C1001.3,311.3 1008.1,325.9 1012.0,335.0 C1015.9,344.1 1025.3,358.7 1032.0,368.0 C1038.7,377.3 1053.2,395.8 1062.0,405.0 C1070.8,414.2 1089.6,428.3 1098.0,437.0 C1106.4,445.7 1118.1,461.6 1125.0,470.0 C1131.9,478.4 1145.3,488.0 1150.0,500.0 C1154.7,512.0 1158.7,544.0 1160.0,560.0 C1161.3,576.0 1164.0,606.7 1160.0,620.0 C1156.0,633.3 1140.7,652.0 1130.0,660.0 C1119.3,668.0 1092.0,676.0 1080.0,680.0 C1068.0,684.0 1049.7,690.0 1040.0,690.0 C1030.3,690.0 1014.1,680.5 1007.0,680.0 C999.9,679.5 993.0,683.7 987.0,686.0 C981.0,688.3 968.3,696.7 962.0,697.0 C955.7,697.3 944.8,690.1 940.0,688.0 C935.2,685.9 928.8,683.5 926.0,681.0 C923.2,678.5 921.0,670.2 919.0,669.0 C917.0,667.8 912.9,670.9 911.0,672.0 C909.1,673.1 906.1,678.6 905.0,677.0 C903.9,675.4 903.9,664.7 903.0,660.0 C902.1,655.3 899.9,646.0 898.0,642.0 C896.1,638.0 890.6,632.7 889.0,630.0 C887.4,627.3 886.7,624.1 886.0,622.0 C885.3,619.9 886.4,615.1 884.0,614.0 C881.6,612.9 871.6,614.9 868.0,614.0 C864.4,613.1 859.7,608.5 857.0,607.0 C854.3,605.5 851.6,605.0 848.0,603.0 C844.4,601.0 834.8,595.1 830.0,592.0 C825.2,588.9 816.3,582.5 812.0,580.0 C807.7,577.5 800.7,575.4 798.0,573.0 C795.3,570.6 794.4,563.7 792.0,562.0 C789.6,560.3 783.1,559.9 780.0,560.0 C776.9,560.1 771.4,561.0 769.0,563.0 C766.6,565.0 763.2,572.1 762.0,575.0 C760.8,577.9 760.5,580.7 760.0,585.0 C759.5,589.3 758.8,601.0 758.0,607.0 C757.2,613.0 755.1,624.9 754.0,630.0 C752.9,635.1 750.8,641.0 750.0,645.0 C749.2,649.0 748.5,656.4 748.0,660.0 C747.5,663.6 747.1,668.0 746.0,672.0 C744.9,676.0 741.6,685.7 740.0,690.0 C738.4,694.3 735.3,699.7 734.0,704.0 C732.7,708.3 730.0,718.3 730.0,722.0 C730.0,725.7 731.3,729.9 734.0,732.0 C736.7,734.1 747.1,735.3 750.0,738.0 C752.9,740.7 754.8,747.7 756.0,752.0 C757.2,756.3 758.2,764.9 759.0,770.0 C759.8,775.1 761.6,785.3 762.0,790.0 C762.4,794.7 772.7,803.0 762.0,805.0 C751.3,807.0 692.7,807.0 682.0,805.0 C671.3,803.0 681.7,794.9 682.0,790.0 C682.3,785.1 682.4,775.2 684.0,768.0 C685.6,760.8 691.9,744.5 694.0,736.0 C696.1,727.5 699.7,712.5 700.0,704.0 C700.3,695.5 696.3,680.5 696.0,672.0 C695.7,663.5 696.7,648.0 698.0,640.0 C699.3,632.0 706.0,619.5 706.0,612.0 C706.0,604.5 699.3,590.9 698.0,584.0 C696.7,577.1 698.1,566.4 696.0,560.0 C693.9,553.6 684.9,543.5 682.0,536.0 C679.1,528.5 675.9,509.9 674.0,504.0 C672.1,498.1 669.5,493.9 668.0,492.0 C666.5,490.1 663.7,495.9 663.0,490.0 C662.3,484.1 663.8,456.4 663.0,448.0 C662.2,439.6 659.6,430.6 657.0,427.0 C654.4,423.4 645.9,424.6 643.5,421.0 C641.1,417.4 640.8,404.4 639.0,400.0 C637.2,395.6 632.2,390.4 630.0,388.0 C627.8,385.6 623.8,380.4 622.5,382.0 C621.2,383.6 619.8,393.6 620.0,400.0 C620.2,406.4 626.7,423.3 624.0,430.0 C621.3,436.7 608.5,451.3 600.0,450.0 C591.5,448.7 570.8,432.0 560.0,420.0 C549.2,408.0 526.3,370.7 519.0,360.0 C511.7,349.3 509.5,345.3 505.0,340.0 C500.5,334.7 489.4,323.1 485.0,320.0 C480.6,316.9 472.7,318.3 472.0,317.0 C471.3,315.7 477.6,311.6 480.0,310.0 C482.4,308.4 489.1,307.7 490.0,305.0 C490.9,302.3 489.0,294.7 487.0,290.0 C485.0,285.3 477.9,274.7 475.0,270.0 C472.1,265.3 467.7,256.3 465.0,255.0 C462.3,253.7 458.1,260.4 455.0,260.0 C451.9,259.6 446.4,256.4 442.0,252.0 C437.6,247.6 426.0,233.0 422.0,227.0 C418.0,221.0 414.3,211.7 412.0,207.0 C409.7,202.3 405.9,194.8 405.0,192.0 C404.1,189.2 400.3,191.6 405.0,186.0 C409.7,180.4 431.3,160.5 440.0,150.0 C448.7,139.5 465.7,115.8 470.0,107.0 C474.3,98.2 471.7,87.1 472.0,84.0 C472.3,80.9 468.3,84.9 472.0,84.0 C475.7,83.1 492.5,79.1 500.0,77.0 C507.5,74.9 524.3,69.2 528.0,68.0 C531.7,66.8 528.0,73.1 528.0,68.0 C528.0,62.9 528.0,39.7 528.0,30.0 C528.0,20.3 528.0,-0.3 528.0,-5.0 C528.0,-9.7 528.0,-5.0 528.0,-5.0Z" fill="#cfd2d3"/>
<path d="M1205.0,258.0 C1202.5,245.7 1193.8,264.0 1190.0,266.0 C1186.2,268.0 1184.0,267.7 1182.0,270.0 C1180.0,272.3 1180.7,278.0 1178.0,280.0 C1175.3,282.0 1169.8,280.8 1166.0,282.0 C1162.2,283.2 1158.0,285.2 1155.0,287.0 C1152.0,288.8 1149.3,290.0 1148.0,293.0 C1146.7,296.0 1146.8,300.5 1147.0,305.0 C1147.2,309.5 1147.3,316.0 1149.0,320.0 C1150.7,324.0 1154.5,326.7 1157.0,329.0 C1159.5,331.3 1160.7,332.8 1164.0,334.0 C1167.3,335.2 1173.7,334.8 1177.0,336.0 C1180.3,337.2 1182.0,339.5 1184.0,341.0 C1186.0,342.5 1187.2,344.5 1189.0,345.0 C1190.8,345.5 1192.3,344.8 1195.0,344.0 C1197.7,343.2 1203.3,354.3 1205.0,340.0 C1206.7,325.7 1207.5,270.3 1205.0,258.0Z M1205.0,200.0 C1203.3,194.3 1197.0,199.5 1195.0,202.0 C1193.0,204.5 1193.0,210.0 1193.0,215.0 C1193.0,220.0 1193.0,228.5 1195.0,232.0 C1197.0,235.5 1203.3,241.3 1205.0,236.0 C1206.7,230.7 1206.7,205.7 1205.0,200.0Z" fill="#cfd2d3"/>
<path d="M0.0,-5.0 C0.6,-49.7 -61.6,-5.0 0.0,-5.0 C61.6,-5.0 466.4,-5.0 528.0,-5.0 C589.6,-5.0 528.0,-9.1 528.0,-5.0 C528.0,-0.9 528.0,21.5 528.0,30.0 C528.0,38.5 528.0,63.6 528.0,68.0 C528.0,72.4 531.3,67.0 528.0,68.0 C524.7,69.0 506.5,75.1 500.0,77.0 C493.5,78.9 475.3,83.2 472.0,84.0 C468.7,84.8 472.2,81.3 472.0,84.0 C471.8,86.7 473.7,99.3 470.0,107.0 C466.3,114.7 447.6,140.8 440.0,150.0 C432.4,159.2 421.3,181.8 405.0,186.0 C388.7,190.2 326.4,186.0 300.0,186.0 C273.6,186.0 193.1,186.0 179.0,186.0 C164.9,186.0 179.0,182.6 179.0,186.0 C179.0,189.4 179.0,211.6 179.0,215.0 C179.0,218.4 179.7,214.5 179.0,215.0 C178.3,215.5 175.2,216.1 173.0,219.0 C170.8,221.9 163.2,235.2 160.0,240.0 C156.8,244.8 150.6,256.4 146.0,260.0 C141.4,263.6 125.5,269.6 121.0,271.0 C116.5,272.4 108.8,270.9 107.0,272.0 C105.2,273.1 107.9,277.3 106.0,280.0 C104.1,282.7 94.7,290.9 91.0,295.0 C87.3,299.1 77.6,310.8 74.0,315.0 C70.4,319.2 64.4,327.5 60.0,331.0 C55.6,334.5 40.1,342.1 36.0,345.0 C31.9,347.9 27.0,353.1 25.0,356.0 C23.0,358.9 21.9,367.4 19.0,370.0 C16.1,372.6 2.8,377.1 0.0,378.0 C-2.8,378.9 -5.0,422.7 -5.0,378.0 C-5.0,333.3 -0.6,39.7 0.0,-5.0Z" fill="url(#spk)" opacity=".4"/>
<path d="M528.0,-5.0 C528.0,-5.0 437.7,-5.0 528.0,-5.0 C618.3,-5.0 1114.7,-5.0 1205.0,-5.0 C1295.3,-5.0 1205.0,-30.7 1205.0,-5.0 C1205.0,20.7 1205.0,162.3 1205.0,188.0 C1205.0,213.7 1206.7,189.1 1205.0,188.0 C1203.3,186.9 1194.5,181.1 1192.0,180.0 C1189.5,178.9 1188.1,178.7 1186.0,180.0 C1183.9,181.3 1178.4,188.7 1176.0,190.0 C1173.6,191.3 1171.2,191.3 1168.0,190.0 C1164.8,188.7 1154.9,182.3 1152.0,180.0 C1149.1,177.7 1147.6,173.9 1146.0,173.0 C1144.4,172.1 1141.6,172.1 1140.0,173.0 C1138.4,173.9 1136.7,178.4 1134.0,180.0 C1131.3,181.6 1123.5,183.7 1120.0,185.0 C1116.5,186.3 1116.0,186.0 1108.0,190.0 C1100.0,194.0 1071.1,207.0 1060.0,215.0 C1048.9,223.0 1032.6,238.7 1025.0,250.0 C1017.4,261.3 1004.7,288.7 1003.0,300.0 C1001.3,311.3 1008.1,325.9 1012.0,335.0 C1015.9,344.1 1025.3,358.7 1032.0,368.0 C1038.7,377.3 1053.2,395.8 1062.0,405.0 C1070.8,414.2 1089.6,428.3 1098.0,437.0 C1106.4,445.7 1118.1,461.6 1125.0,470.0 C1131.9,478.4 1145.3,488.0 1150.0,500.0 C1154.7,512.0 1158.7,544.0 1160.0,560.0 C1161.3,576.0 1164.0,606.7 1160.0,620.0 C1156.0,633.3 1140.7,652.0 1130.0,660.0 C1119.3,668.0 1092.0,676.0 1080.0,680.0 C1068.0,684.0 1049.7,690.0 1040.0,690.0 C1030.3,690.0 1014.1,680.5 1007.0,680.0 C999.9,679.5 993.0,683.7 987.0,686.0 C981.0,688.3 968.3,696.7 962.0,697.0 C955.7,697.3 944.8,690.1 940.0,688.0 C935.2,685.9 928.8,683.5 926.0,681.0 C923.2,678.5 921.0,670.2 919.0,669.0 C917.0,667.8 912.9,670.9 911.0,672.0 C909.1,673.1 906.1,678.6 905.0,677.0 C903.9,675.4 903.9,664.7 903.0,660.0 C902.1,655.3 899.9,646.0 898.0,642.0 C896.1,638.0 890.6,632.7 889.0,630.0 C887.4,627.3 886.7,624.1 886.0,622.0 C885.3,619.9 886.4,615.1 884.0,614.0 C881.6,612.9 871.6,614.9 868.0,614.0 C864.4,613.1 859.7,608.5 857.0,607.0 C854.3,605.5 851.6,605.0 848.0,603.0 C844.4,601.0 834.8,595.1 830.0,592.0 C825.2,588.9 816.3,582.5 812.0,580.0 C807.7,577.5 800.7,575.4 798.0,573.0 C795.3,570.6 794.4,563.7 792.0,562.0 C789.6,560.3 783.1,559.9 780.0,560.0 C776.9,560.1 771.4,561.0 769.0,563.0 C766.6,565.0 763.2,572.1 762.0,575.0 C760.8,577.9 760.5,580.7 760.0,585.0 C759.5,589.3 758.8,601.0 758.0,607.0 C757.2,613.0 755.1,624.9 754.0,630.0 C752.9,635.1 750.8,641.0 750.0,645.0 C749.2,649.0 748.5,656.4 748.0,660.0 C747.5,663.6 747.1,668.0 746.0,672.0 C744.9,676.0 741.6,685.7 740.0,690.0 C738.4,694.3 735.3,699.7 734.0,704.0 C732.7,708.3 730.0,718.3 730.0,722.0 C730.0,725.7 731.3,729.9 734.0,732.0 C736.7,734.1 747.1,735.3 750.0,738.0 C752.9,740.7 754.8,747.7 756.0,752.0 C757.2,756.3 758.2,764.9 759.0,770.0 C759.8,775.1 761.6,785.3 762.0,790.0 C762.4,794.7 772.7,803.0 762.0,805.0 C751.3,807.0 692.7,807.0 682.0,805.0 C671.3,803.0 681.7,794.9 682.0,790.0 C682.3,785.1 682.4,775.2 684.0,768.0 C685.6,760.8 691.9,744.5 694.0,736.0 C696.1,727.5 699.7,712.5 700.0,704.0 C700.3,695.5 696.3,680.5 696.0,672.0 C695.7,663.5 696.7,648.0 698.0,640.0 C699.3,632.0 706.0,619.5 706.0,612.0 C706.0,604.5 699.3,590.9 698.0,584.0 C696.7,577.1 698.1,566.4 696.0,560.0 C693.9,553.6 684.9,543.5 682.0,536.0 C679.1,528.5 675.9,509.9 674.0,504.0 C672.1,498.1 669.5,493.9 668.0,492.0 C666.5,490.1 663.7,495.9 663.0,490.0 C662.3,484.1 663.8,456.4 663.0,448.0 C662.2,439.6 659.6,430.6 657.0,427.0 C654.4,423.4 645.9,424.6 643.5,421.0 C641.1,417.4 640.8,404.4 639.0,400.0 C637.2,395.6 632.2,390.4 630.0,388.0 C627.8,385.6 623.8,380.4 622.5,382.0 C621.2,383.6 619.8,393.6 620.0,400.0 C620.2,406.4 626.7,423.3 624.0,430.0 C621.3,436.7 608.5,451.3 600.0,450.0 C591.5,448.7 570.8,432.0 560.0,420.0 C549.2,408.0 526.3,370.7 519.0,360.0 C511.7,349.3 509.5,345.3 505.0,340.0 C500.5,334.7 489.4,323.1 485.0,320.0 C480.6,316.9 472.7,318.3 472.0,317.0 C471.3,315.7 477.6,311.6 480.0,310.0 C482.4,308.4 489.1,307.7 490.0,305.0 C490.9,302.3 489.0,294.7 487.0,290.0 C485.0,285.3 477.9,274.7 475.0,270.0 C472.1,265.3 467.7,256.3 465.0,255.0 C462.3,253.7 458.1,260.4 455.0,260.0 C451.9,259.6 446.4,256.4 442.0,252.0 C437.6,247.6 426.0,233.0 422.0,227.0 C418.0,221.0 414.3,211.7 412.0,207.0 C409.7,202.3 405.9,194.8 405.0,192.0 C404.1,189.2 400.3,191.6 405.0,186.0 C409.7,180.4 431.3,160.5 440.0,150.0 C448.7,139.5 465.7,115.8 470.0,107.0 C474.3,98.2 471.7,87.1 472.0,84.0 C472.3,80.9 468.3,84.9 472.0,84.0 C475.7,83.1 492.5,79.1 500.0,77.0 C507.5,74.9 524.3,69.2 528.0,68.0 C531.7,66.8 528.0,73.1 528.0,68.0 C528.0,62.9 528.0,39.7 528.0,30.0 C528.0,20.3 528.0,-0.3 528.0,-5.0 C528.0,-9.7 528.0,-5.0 528.0,-5.0Z M1205.0,258.0 C1202.5,245.7 1193.8,264.0 1190.0,266.0 C1186.2,268.0 1184.0,267.7 1182.0,270.0 C1180.0,272.3 1180.7,278.0 1178.0,280.0 C1175.3,282.0 1169.8,280.8 1166.0,282.0 C1162.2,283.2 1158.0,285.2 1155.0,287.0 C1152.0,288.8 1149.3,290.0 1148.0,293.0 C1146.7,296.0 1146.8,300.5 1147.0,305.0 C1147.2,309.5 1147.3,316.0 1149.0,320.0 C1150.7,324.0 1154.5,326.7 1157.0,329.0 C1159.5,331.3 1160.7,332.8 1164.0,334.0 C1167.3,335.2 1173.7,334.8 1177.0,336.0 C1180.3,337.2 1182.0,339.5 1184.0,341.0 C1186.0,342.5 1187.2,344.5 1189.0,345.0 C1190.8,345.5 1192.3,344.8 1195.0,344.0 C1197.7,343.2 1203.3,354.3 1205.0,340.0 C1206.7,325.7 1207.5,270.3 1205.0,258.0Z" fill="url(#spk)"/>
<ellipse cx="682.5" cy="577" rx="3" ry="7" fill="#cfd2d3" transform="rotate(15 682.5 577)"/><ellipse cx="686" cy="605" rx="2.5" ry="6" fill="#cfd2d3" transform="rotate(15 686 605)"/>
<g fill="#efc8cc" opacity=".32"><ellipse cx="449" cy="565" rx="3" ry="9"/><ellipse cx="443" cy="598" rx="3" ry="9"/><ellipse cx="435" cy="630" rx="4" ry="8"/><ellipse cx="690" cy="640" rx="2" ry="5"/><ellipse cx="728" cy="735" rx="3" ry="6"/></g>
<path d="M673.0,273.0 C672.0,275.8 668.7,284.7 667.0,290.0 C665.3,295.3 664.5,300.2 663.0,305.0 C661.5,309.8 660.2,315.5 658.0,319.0 C655.8,322.5 652.3,324.0 650.0,326.0 C647.7,328.0 644.7,328.8 644.0,331.0 C643.3,333.2 644.7,336.2 646.0,339.0 C647.3,341.8 649.0,343.5 652.0,348.0 C655.0,352.5 659.5,359.0 664.0,366.0 C668.5,373.0 673.7,382.8 679.0,390.0 C684.3,397.2 691.2,403.3 696.0,409.0 C700.8,414.7 705.5,420.0 708.0,424.0 C710.5,428.0 712.0,430.0 711.0,433.0 C710.0,436.0 704.5,437.5 702.0,442.0 C699.5,446.5 699.0,453.0 696.0,460.0 C693.0,467.0 685.5,477.0 684.0,484.0 C682.5,491.0 684.0,496.5 687.0,502.0 C690.0,507.5 697.3,510.7 702.0,517.0 C706.7,523.3 711.2,531.2 715.0,540.0 C718.8,548.8 723.0,560.8 725.0,570.0 C727.0,579.2 725.0,587.2 727.0,595.0 C729.0,602.8 734.8,610.8 737.0,617.0 C739.2,623.2 740.2,628.2 740.0,632.0 C739.8,635.8 737.7,633.8 736.0,640.0 C734.3,646.2 731.0,664.2 730.0,669.0" fill="none" stroke="#c6f8f9" stroke-width="4.5" stroke-linecap="round" stroke-linejoin="round"/>
<path d="M673.0,273.0 C676.0,273.5 684.0,276.5 691.0,276.0 C698.0,275.5 710.0,273.5 715.0,270.0 C720.0,266.5 717.0,258.5 721.0,255.0 C725.0,251.5 733.8,251.5 739.0,249.0 C744.2,246.5 747.3,237.8 752.5,240.0 C757.7,242.2 763.8,255.0 770.0,262.0 C776.2,269.0 782.7,278.2 790.0,282.0 C797.3,285.8 809.0,281.0 814.0,285.0 C819.0,289.0 820.5,297.5 820.0,306.0 C819.5,314.5 813.0,327.5 811.0,336.0 C809.0,344.5 808.5,353.5 808.0,357.0" fill="none" stroke="#c6f8f9" stroke-width="4.5" stroke-linecap="round" stroke-linejoin="round"/>
<path d="M808.0,357.0 C812.5,356.0 828.0,352.5 835.0,351.0 C842.0,349.5 844.5,347.0 850.0,348.0 C855.5,349.0 861.5,355.5 868.0,357.0 C874.5,358.5 883.0,359.5 889.0,357.0 C895.0,354.5 898.0,346.0 904.0,342.0 C910.0,338.0 919.0,333.5 925.0,333.0 C931.0,332.5 935.0,335.0 940.0,339.0 C945.0,343.0 950.0,351.5 955.0,357.0 C960.0,362.5 966.5,365.5 970.0,372.0 C973.5,378.5 974.5,388.0 976.0,396.0 C977.5,404.0 975.8,413.2 979.0,420.0 C982.2,426.8 991.0,432.3 995.0,437.0 C999.0,441.7 1000.5,444.2 1003.0,448.0 C1005.5,451.8 1009.2,453.0 1010.0,460.0 C1010.8,467.0 1009.0,481.0 1008.0,490.0 C1007.0,499.0 1006.3,508.0 1004.0,514.0 C1001.7,520.0 995.7,524.0 994.0,526.0" fill="none" stroke="#c6f8f9" stroke-width="4.5" stroke-linecap="round" stroke-linejoin="round"/>
<path d="M808.0,357.0 C806.7,359.5 800.3,366.2 800.0,372.0 C799.7,377.8 805.0,388.7 806.0,392.0" fill="none" stroke="#c6f8f9" stroke-width="4.5" stroke-linecap="round" stroke-linejoin="round"/>
<path d="M925.0,517.0 C930.8,517.2 949.8,517.2 960.0,518.0 C970.2,518.8 980.3,520.7 986.0,522.0 C991.7,523.3 986.7,523.2 994.0,526.0 C1001.3,528.8 1023.0,537.3 1030.0,539.0 C1037.0,540.7 1035.7,538.5 1036.0,536.0 C1036.3,533.5 1031.7,527.7 1032.0,524.0 C1032.3,520.3 1035.0,516.3 1038.0,514.0 C1041.0,511.7 1044.3,509.3 1050.0,510.0 C1055.7,510.7 1065.7,517.3 1072.0,518.0 C1078.3,518.7 1083.7,516.0 1088.0,514.0 C1092.3,512.0 1096.3,507.3 1098.0,506.0" fill="none" stroke="#c6f8f9" stroke-width="4.5" stroke-linecap="round" stroke-linejoin="round"/>
<path d="M925.0,517.0 C921.7,517.3 910.2,517.7 905.0,519.0 C899.8,520.3 897.5,521.2 893.7,525.0 C889.9,528.8 885.5,535.0 882.0,541.7 C878.5,548.4 873.4,558.6 872.7,565.0 C872.0,571.4 875.7,575.3 878.0,580.0 C880.3,584.7 885.7,587.2 886.7,593.0 C887.7,598.8 884.3,610.5 884.0,615.0 C883.7,619.5 884.8,619.2 885.0,620.0" fill="none" stroke="#c6f8f9" stroke-width="4.5" stroke-linecap="round" stroke-linejoin="round"/>
<path d="M766.0,187.0 C768.0,188.0 774.0,190.2 778.0,193.0 C782.0,195.8 788.0,200.7 790.0,204.0 C792.0,207.3 790.7,210.0 790.0,213.0 C789.3,216.0 789.3,218.3 786.0,222.0 C782.7,225.7 775.6,232.0 770.0,235.0 C764.4,238.0 755.4,239.2 752.5,240.0" fill="none" stroke="#c6f8f9" stroke-width="4.5" stroke-linecap="round" stroke-linejoin="round"/>
<path d="M790.0,204.0 C793.0,203.0 803.0,197.5 808.0,198.0 C813.0,198.5 815.0,205.0 820.0,207.0 C825.0,209.0 834.0,212.0 838.0,210.0 C842.0,208.0 843.5,199.0 844.0,195.0 C844.5,191.0 841.5,187.5 841.0,186.0" fill="none" stroke="#c6f8f9" stroke-width="4.5" stroke-linecap="round" stroke-linejoin="round"/>
<path d="M880.0,180.0 C878.3,182.5 870.0,190.8 870.0,195.0 C870.0,199.2 875.8,203.3 880.0,205.0 C884.2,206.7 892.5,205.0 895.0,205.0" fill="none" stroke="#c6f8f9" stroke-width="4.5" stroke-linecap="round" stroke-linejoin="round"/>
<path d="M248.0,-3.0 C251.5,-1.0 266.0,6.0 269.0,9.0 C272.0,12.0 271.5,12.0 266.0,15.0 C260.5,18.0 242.0,23.0 236.0,27.0 C230.0,31.0 227.0,33.5 230.0,39.0 C233.0,44.5 250.5,53.5 254.0,60.0 C257.5,66.5 250.0,71.5 251.0,78.0 C252.0,84.5 258.2,94.0 260.0,99.0 C261.8,104.0 261.7,106.5 262.0,108.0" fill="none" stroke="#c6f8f9" stroke-width="2.6" stroke-linecap="round"/>
<path d="M305.0,-3.0 C306.0,-0.5 307.5,8.2 311.0,12.0 C314.5,15.8 317.5,18.0 326.0,19.5 C334.5,21.0 351.0,21.2 362.0,21.0 C373.0,20.8 383.0,17.8 392.0,18.0 C401.0,18.2 410.0,20.0 416.0,22.5 C422.0,25.0 426.7,26.8 428.0,33.0 C429.3,39.2 427.0,51.0 424.0,60.0 C421.0,69.0 411.0,79.2 410.0,87.0 C409.0,94.8 416.7,103.7 418.0,107.0" fill="none" stroke="#c6f8f9" stroke-width="2.6" stroke-linecap="round"/>
<path d="M524.0,-3.0 C523.3,0.8 523.0,9.5 520.0,20.0 C517.0,30.5 509.3,50.8 506.0,60.0 C502.7,69.2 501.0,72.5 500.0,75.0" fill="none" stroke="#c6f8f9" stroke-width="2.6" stroke-linecap="round"/>
<path d="M684.0,-3.0 C681.0,-0.3 670.3,8.2 666.0,13.0 C661.7,17.8 660.2,20.2 658.0,26.0 C655.8,31.8 652.3,41.5 653.0,48.0 C653.7,54.5 656.2,61.5 662.0,65.0 C667.8,68.5 681.5,69.0 688.0,69.0 C694.5,69.0 698.2,62.0 701.0,65.0 C703.8,68.0 702.8,80.5 705.0,87.0 C707.2,93.5 712.5,101.2 714.0,104.0" fill="none" stroke="#c6f8f9" stroke-width="2.6" stroke-linecap="round"/>
<path d="M996.0,110.0 C999.0,110.3 1000.7,112.5 1003.0,114.0 C1005.3,115.5 1006.3,117.2 1010.0,119.0 C1013.7,120.8 1020.0,123.7 1025.0,125.0 C1030.0,126.3 1034.7,126.7 1040.0,127.0 C1045.3,127.3 1053.5,126.2 1057.0,127.0 C1060.5,127.8 1060.5,130.3 1061.0,132.0 C1061.5,133.7 1061.0,134.8 1060.0,137.0 C1059.0,139.2 1056.0,142.8 1055.0,145.0 C1054.0,147.2 1053.5,147.2 1054.0,150.0 C1054.5,152.8 1056.3,158.7 1058.0,162.0 C1059.7,165.3 1061.0,167.7 1064.0,170.0 C1067.0,172.3 1072.7,173.7 1076.0,176.0 C1079.3,178.3 1080.7,182.0 1084.0,184.0 C1087.3,186.0 1092.0,187.0 1096.0,188.0 C1100.0,189.0 1107.7,188.3 1108.0,190.0 C1108.3,191.7 1101.3,194.7 1098.0,198.0 C1094.7,201.3 1090.3,207.2 1088.0,210.0 C1085.7,212.8 1086.7,213.8 1084.0,215.0 C1081.3,216.2 1076.0,217.3 1072.0,217.0 C1068.0,216.7 1062.5,213.2 1060.0,213.0 C1057.5,212.8 1056.7,214.5 1057.0,216.0 C1057.3,217.5 1061.7,220.0 1062.0,222.0 C1062.3,224.0 1060.3,225.3 1059.0,228.0 C1057.7,230.7 1055.8,234.7 1054.0,238.0 C1052.2,241.3 1051.0,244.7 1048.0,248.0 C1045.0,251.3 1040.0,254.3 1036.0,258.0 C1032.0,261.7 1026.8,265.7 1024.0,270.0 C1021.2,274.3 1020.0,280.5 1019.0,284.0 C1018.0,287.5 1018.0,289.8 1018.0,291.0 C1018.0,292.2 1019.7,289.2 1019.0,291.0 C1018.3,292.8 1014.7,297.8 1014.0,302.0 C1013.3,306.2 1012.8,311.0 1015.0,316.0 C1017.2,321.0 1022.5,327.5 1027.0,332.0 C1031.5,336.5 1038.5,339.3 1042.0,343.0 C1045.5,346.7 1048.2,350.3 1048.0,354.0 C1047.8,357.7 1040.5,361.2 1041.0,365.0 C1041.5,368.8 1046.3,372.5 1051.0,377.0 C1055.7,381.5 1063.7,386.8 1069.0,392.0 C1074.3,397.2 1077.0,402.7 1083.0,408.0 C1089.0,413.3 1098.3,419.5 1105.0,424.0 C1111.7,428.5 1118.8,431.3 1123.0,435.0 C1127.2,438.7 1128.2,443.2 1130.0,446.0 C1131.8,448.8 1131.0,449.0 1134.0,452.0 C1137.0,455.0 1144.0,460.0 1148.0,464.0 C1152.0,468.0 1154.0,473.3 1158.0,476.0 C1162.0,478.7 1168.5,477.3 1172.0,480.0 C1175.5,482.7 1178.3,487.3 1179.0,492.0 C1179.7,496.7 1177.5,503.3 1176.0,508.0 C1174.5,512.7 1170.0,514.7 1170.0,520.0 C1170.0,525.3 1174.8,534.0 1176.0,540.0 C1177.2,546.0 1176.0,550.7 1177.0,556.0 C1178.0,561.3 1181.2,567.3 1182.0,572.0 C1182.8,576.7 1183.0,579.7 1182.0,584.0 C1181.0,588.3 1177.3,595.0 1176.0,598.0 C1174.7,601.0 1174.7,598.8 1174.0,602.0 C1173.3,605.2 1173.1,612.3 1172.0,617.0 C1170.9,621.7 1167.8,625.7 1167.5,630.0 C1167.2,634.3 1171.1,639.0 1170.0,643.0 C1168.9,647.0 1164.7,650.8 1161.0,654.0 C1157.3,657.2 1152.3,658.8 1148.0,662.0 C1143.7,665.2 1140.8,669.3 1135.0,673.0 C1129.2,676.7 1119.5,680.3 1113.0,684.0 C1106.5,687.7 1101.3,692.2 1096.0,695.0 C1090.7,697.8 1083.8,701.3 1081.0,701.0 C1078.2,700.7 1080.8,694.8 1079.0,693.0 C1077.2,691.2 1073.0,690.2 1070.0,690.5 C1067.0,690.8 1062.8,692.4 1061.0,695.0 C1059.2,697.6 1061.8,704.6 1059.0,706.0 C1056.2,707.4 1050.2,705.0 1044.0,703.5 C1037.8,702.0 1027.8,699.6 1022.0,697.0 C1016.2,694.4 1011.5,690.8 1009.0,688.0 C1006.5,685.2 1005.2,682.0 1007.0,680.0 C1008.8,678.0 1016.7,677.2 1020.0,676.0 C1023.3,674.8 1025.2,675.3 1027.0,673.0 C1028.8,670.7 1029.7,666.7 1031.0,662.0 C1032.3,657.3 1032.7,649.3 1035.0,645.0 C1037.3,640.7 1041.5,638.5 1045.0,636.0 C1048.5,633.5 1052.2,631.8 1056.0,630.0 C1059.8,628.2 1064.2,627.2 1068.0,625.0 C1071.8,622.8 1075.0,620.8 1079.0,617.0 C1083.0,613.2 1088.8,605.5 1092.0,602.0 C1095.2,598.5 1095.3,600.3 1098.0,596.0 C1100.7,591.7 1107.0,582.0 1108.0,576.0 C1109.0,570.0 1105.7,566.0 1104.0,560.0 C1102.3,554.0 1098.3,546.7 1098.0,540.0 C1097.7,533.3 1102.0,526.0 1102.0,520.0 C1102.0,514.0 1097.7,510.0 1098.0,504.0 C1098.3,498.0 1103.7,489.7 1104.0,484.0 C1104.3,478.3 1103.0,474.7 1100.0,470.0 C1097.0,465.3 1086.7,459.7 1086.0,456.0 C1085.3,452.3 1095.8,451.8 1096.0,448.0 C1096.2,444.2 1092.2,438.2 1087.0,433.0 C1081.8,427.8 1069.0,422.3 1065.0,417.0 C1061.0,411.7 1065.7,406.2 1063.0,401.0 C1060.3,395.8 1054.7,391.2 1049.0,386.0 C1043.3,380.8 1034.7,375.7 1029.0,370.0 C1023.3,364.3 1020.3,357.3 1015.0,352.0 C1009.7,346.7 1001.5,343.7 997.0,338.0 C992.5,332.3 993.5,323.3 988.0,318.0 C982.5,312.7 970.8,309.2 964.0,306.0 C957.2,302.8 950.2,301.8 947.0,299.0 C943.8,296.2 944.2,291.7 945.0,289.0 C945.8,286.3 948.2,284.5 952.0,283.0 C955.8,281.5 963.0,282.2 968.0,280.0 C973.0,277.8 979.0,273.7 982.0,270.0 C985.0,266.3 986.3,261.7 986.0,258.0 C985.7,254.3 982.7,250.7 980.0,248.0 C977.3,245.3 972.0,244.3 970.0,242.0 C968.0,239.7 969.7,237.3 968.0,234.0 C966.3,230.7 963.5,224.5 960.0,222.0 C956.5,219.5 950.8,218.5 947.0,219.0 C943.2,219.5 940.7,223.7 937.0,225.0 C933.3,226.3 930.0,228.3 925.0,227.0 C920.0,225.7 912.0,220.7 907.0,217.0 C902.0,213.3 897.5,209.2 895.0,205.0 C892.5,200.8 894.5,196.2 892.0,192.0 C889.5,187.8 882.0,183.3 880.0,180.0 C878.0,176.7 876.7,174.0 880.0,172.0 C883.3,170.0 890.8,170.3 900.0,168.0 C909.2,165.7 927.5,162.7 935.0,158.0 C942.5,153.3 940.8,143.8 945.0,140.0 C949.2,136.2 955.5,137.5 960.0,135.0 C964.5,132.5 967.8,128.8 972.0,125.0 C976.2,121.2 981.0,114.5 985.0,112.0 C989.0,109.5 993.0,109.7 996.0,110.0Z" fill="#b42a3c" stroke="#c6f8f9" stroke-width="8" stroke-linejoin="round" paint-order="stroke"/>
<path d="M996.0,110.0 C999.0,110.3 1000.7,112.5 1003.0,114.0 C1005.3,115.5 1006.3,117.2 1010.0,119.0 C1013.7,120.8 1020.0,123.7 1025.0,125.0 C1030.0,126.3 1034.7,126.7 1040.0,127.0 C1045.3,127.3 1053.5,126.2 1057.0,127.0 C1060.5,127.8 1060.5,130.3 1061.0,132.0 C1061.5,133.7 1061.0,134.8 1060.0,137.0 C1059.0,139.2 1056.0,142.8 1055.0,145.0 C1054.0,147.2 1053.5,147.2 1054.0,150.0 C1054.5,152.8 1056.3,158.7 1058.0,162.0 C1059.7,165.3 1061.0,167.7 1064.0,170.0 C1067.0,172.3 1072.7,173.7 1076.0,176.0 C1079.3,178.3 1080.7,182.0 1084.0,184.0 C1087.3,186.0 1092.0,187.0 1096.0,188.0 C1100.0,189.0 1107.7,188.3 1108.0,190.0 C1108.3,191.7 1101.3,194.7 1098.0,198.0 C1094.7,201.3 1090.3,207.2 1088.0,210.0 C1085.7,212.8 1086.7,213.8 1084.0,215.0 C1081.3,216.2 1076.0,217.3 1072.0,217.0 C1068.0,216.7 1062.5,213.2 1060.0,213.0 C1057.5,212.8 1056.7,214.5 1057.0,216.0 C1057.3,217.5 1061.7,220.0 1062.0,222.0 C1062.3,224.0 1060.3,225.3 1059.0,228.0 C1057.7,230.7 1055.8,234.7 1054.0,238.0 C1052.2,241.3 1051.0,244.7 1048.0,248.0 C1045.0,251.3 1040.0,254.3 1036.0,258.0 C1032.0,261.7 1026.8,265.7 1024.0,270.0 C1021.2,274.3 1020.0,280.5 1019.0,284.0 C1018.0,287.5 1018.0,289.8 1018.0,291.0 C1018.0,292.2 1019.7,289.2 1019.0,291.0 C1018.3,292.8 1014.7,297.8 1014.0,302.0 C1013.3,306.2 1012.8,311.0 1015.0,316.0 C1017.2,321.0 1022.5,327.5 1027.0,332.0 C1031.5,336.5 1038.5,339.3 1042.0,343.0 C1045.5,346.7 1048.2,350.3 1048.0,354.0 C1047.8,357.7 1040.5,361.2 1041.0,365.0 C1041.5,368.8 1046.3,372.5 1051.0,377.0 C1055.7,381.5 1063.7,386.8 1069.0,392.0 C1074.3,397.2 1077.0,402.7 1083.0,408.0 C1089.0,413.3 1098.3,419.5 1105.0,424.0 C1111.7,428.5 1118.8,431.3 1123.0,435.0 C1127.2,438.7 1128.2,443.2 1130.0,446.0 C1131.8,448.8 1131.0,449.0 1134.0,452.0 C1137.0,455.0 1144.0,460.0 1148.0,464.0 C1152.0,468.0 1154.0,473.3 1158.0,476.0 C1162.0,478.7 1168.5,477.3 1172.0,480.0 C1175.5,482.7 1178.3,487.3 1179.0,492.0 C1179.7,496.7 1177.5,503.3 1176.0,508.0 C1174.5,512.7 1170.0,514.7 1170.0,520.0 C1170.0,525.3 1174.8,534.0 1176.0,540.0 C1177.2,546.0 1176.0,550.7 1177.0,556.0 C1178.0,561.3 1181.2,567.3 1182.0,572.0 C1182.8,576.7 1183.0,579.7 1182.0,584.0 C1181.0,588.3 1177.3,595.0 1176.0,598.0 C1174.7,601.0 1174.7,598.8 1174.0,602.0 C1173.3,605.2 1173.1,612.3 1172.0,617.0 C1170.9,621.7 1167.8,625.7 1167.5,630.0 C1167.2,634.3 1171.1,639.0 1170.0,643.0 C1168.9,647.0 1164.7,650.8 1161.0,654.0 C1157.3,657.2 1152.3,658.8 1148.0,662.0 C1143.7,665.2 1140.8,669.3 1135.0,673.0 C1129.2,676.7 1119.5,680.3 1113.0,684.0 C1106.5,687.7 1101.3,692.2 1096.0,695.0 C1090.7,697.8 1083.8,701.3 1081.0,701.0 C1078.2,700.7 1080.8,694.8 1079.0,693.0 C1077.2,691.2 1073.0,690.2 1070.0,690.5 C1067.0,690.8 1062.8,692.4 1061.0,695.0 C1059.2,697.6 1061.8,704.6 1059.0,706.0 C1056.2,707.4 1050.2,705.0 1044.0,703.5 C1037.8,702.0 1027.8,699.6 1022.0,697.0 C1016.2,694.4 1011.5,690.8 1009.0,688.0 C1006.5,685.2 1005.2,682.0 1007.0,680.0 C1008.8,678.0 1016.7,677.2 1020.0,676.0 C1023.3,674.8 1025.2,675.3 1027.0,673.0 C1028.8,670.7 1029.7,666.7 1031.0,662.0 C1032.3,657.3 1032.7,649.3 1035.0,645.0 C1037.3,640.7 1041.5,638.5 1045.0,636.0 C1048.5,633.5 1052.2,631.8 1056.0,630.0 C1059.8,628.2 1064.2,627.2 1068.0,625.0 C1071.8,622.8 1075.0,620.8 1079.0,617.0 C1083.0,613.2 1088.8,605.5 1092.0,602.0 C1095.2,598.5 1095.3,600.3 1098.0,596.0 C1100.7,591.7 1107.0,582.0 1108.0,576.0 C1109.0,570.0 1105.7,566.0 1104.0,560.0 C1102.3,554.0 1098.3,546.7 1098.0,540.0 C1097.7,533.3 1102.0,526.0 1102.0,520.0 C1102.0,514.0 1097.7,510.0 1098.0,504.0 C1098.3,498.0 1103.7,489.7 1104.0,484.0 C1104.3,478.3 1103.0,474.7 1100.0,470.0 C1097.0,465.3 1086.7,459.7 1086.0,456.0 C1085.3,452.3 1095.8,451.8 1096.0,448.0 C1096.2,444.2 1092.2,438.2 1087.0,433.0 C1081.8,427.8 1069.0,422.3 1065.0,417.0 C1061.0,411.7 1065.7,406.2 1063.0,401.0 C1060.3,395.8 1054.7,391.2 1049.0,386.0 C1043.3,380.8 1034.7,375.7 1029.0,370.0 C1023.3,364.3 1020.3,357.3 1015.0,352.0 C1009.7,346.7 1001.5,343.7 997.0,338.0 C992.5,332.3 993.5,323.3 988.0,318.0 C982.5,312.7 970.8,309.2 964.0,306.0 C957.2,302.8 950.2,301.8 947.0,299.0 C943.8,296.2 944.2,291.7 945.0,289.0 C945.8,286.3 948.2,284.5 952.0,283.0 C955.8,281.5 963.0,282.2 968.0,280.0 C973.0,277.8 979.0,273.7 982.0,270.0 C985.0,266.3 986.3,261.7 986.0,258.0 C985.7,254.3 982.7,250.7 980.0,248.0 C977.3,245.3 972.0,244.3 970.0,242.0 C968.0,239.7 969.7,237.3 968.0,234.0 C966.3,230.7 963.5,224.5 960.0,222.0 C956.5,219.5 950.8,218.5 947.0,219.0 C943.2,219.5 940.7,223.7 937.0,225.0 C933.3,226.3 930.0,228.3 925.0,227.0 C920.0,225.7 912.0,220.7 907.0,217.0 C902.0,213.3 897.5,209.2 895.0,205.0 C892.5,200.8 894.5,196.2 892.0,192.0 C889.5,187.8 882.0,183.3 880.0,180.0 C878.0,176.7 876.7,174.0 880.0,172.0 C883.3,170.0 890.8,170.3 900.0,168.0 C909.2,165.7 927.5,162.7 935.0,158.0 C942.5,153.3 940.8,143.8 945.0,140.0 C949.2,136.2 955.5,137.5 960.0,135.0 C964.5,132.5 967.8,128.8 972.0,125.0 C976.2,121.2 981.0,114.5 985.0,112.0 C989.0,109.5 993.0,109.7 996.0,110.0Z M990.0,690.5 C985.5,688.8 980.3,694.1 976.0,696.0 C971.7,697.9 965.3,699.8 964.0,702.0 C962.7,704.2 966.6,707.0 968.0,709.0 C969.4,711.0 970.2,712.7 972.5,714.0 C974.8,715.3 978.8,716.2 982.0,717.0 C985.2,717.8 990.5,717.8 992.0,719.0 C993.5,720.2 991.3,722.7 991.0,724.0 C990.7,725.3 991.2,725.8 990.0,727.0 C988.8,728.2 985.8,729.5 984.0,731.0 C982.2,732.5 980.2,733.7 979.0,736.0 C977.8,738.3 977.7,741.0 977.0,745.0 C976.3,749.0 975.7,755.3 975.0,760.0 C974.3,764.7 972.2,769.8 973.0,773.0 C973.8,776.2 977.7,777.8 980.0,779.0 C982.3,780.2 983.7,781.3 987.0,780.0 C990.3,778.7 995.7,774.3 1000.0,771.0 C1004.3,767.7 1008.7,763.5 1013.0,760.0 C1017.3,756.5 1022.5,753.0 1026.0,750.0 C1029.5,747.0 1033.2,744.3 1034.0,742.0 C1034.8,739.7 1032.2,737.7 1031.0,736.0 C1029.8,734.3 1029.5,734.8 1027.0,732.0 C1024.5,729.2 1020.0,723.3 1016.0,719.0 C1012.0,714.7 1007.3,710.8 1003.0,706.0 C998.7,701.2 994.5,692.2 990.0,690.5Z M1014.0,703.5 C1014.5,702.5 1016.0,702.2 1017.0,702.0 C1018.0,701.8 1018.2,700.8 1020.0,702.0 C1021.8,703.2 1025.5,706.6 1028.0,709.0 C1030.5,711.4 1032.8,714.2 1035.0,716.5 C1037.2,718.8 1039.2,720.8 1041.0,723.0 C1042.8,725.2 1044.3,727.8 1046.0,729.5 C1047.7,731.2 1049.5,732.1 1051.0,733.0 C1052.5,733.9 1054.7,734.3 1055.0,735.0 C1055.3,735.7 1053.8,736.5 1053.0,737.0 C1052.2,737.5 1052.0,738.5 1050.5,738.0 C1049.0,737.5 1046.2,735.4 1044.0,734.0 C1041.8,732.6 1039.8,731.5 1037.5,729.5 C1035.2,727.5 1032.6,724.6 1030.0,722.0 C1027.4,719.4 1024.2,715.8 1022.0,714.0 C1019.8,712.2 1018.3,712.0 1017.0,711.0 C1015.7,710.0 1014.5,709.2 1014.0,708.0 C1013.5,706.8 1013.5,704.5 1014.0,703.5Z M1058,716 a5,5 0 1,0 -10,0 a5,5 0 1,0 10,0Z" fill="#b42a3c" stroke="#7c1626" stroke-width="1"/>
<path d="M996.0,110.0 C999.0,110.3 1000.7,112.5 1003.0,114.0 C1005.3,115.5 1006.3,117.2 1010.0,119.0 C1013.7,120.8 1020.0,123.7 1025.0,125.0 C1030.0,126.3 1034.7,126.7 1040.0,127.0 C1045.3,127.3 1053.5,126.2 1057.0,127.0 C1060.5,127.8 1060.5,130.3 1061.0,132.0 C1061.5,133.7 1061.0,134.8 1060.0,137.0 C1059.0,139.2 1056.0,142.8 1055.0,145.0 C1054.0,147.2 1053.5,147.2 1054.0,150.0 C1054.5,152.8 1056.3,158.7 1058.0,162.0 C1059.7,165.3 1061.0,167.7 1064.0,170.0 C1067.0,172.3 1072.7,173.7 1076.0,176.0 C1079.3,178.3 1080.7,182.0 1084.0,184.0 C1087.3,186.0 1092.0,187.0 1096.0,188.0 C1100.0,189.0 1107.7,188.3 1108.0,190.0 C1108.3,191.7 1101.3,194.7 1098.0,198.0 C1094.7,201.3 1090.3,207.2 1088.0,210.0 C1085.7,212.8 1086.7,213.8 1084.0,215.0 C1081.3,216.2 1076.0,217.3 1072.0,217.0 C1068.0,216.7 1062.5,213.2 1060.0,213.0 C1057.5,212.8 1056.7,214.5 1057.0,216.0 C1057.3,217.5 1061.7,220.0 1062.0,222.0 C1062.3,224.0 1060.3,225.3 1059.0,228.0 C1057.7,230.7 1055.8,234.7 1054.0,238.0 C1052.2,241.3 1051.0,244.7 1048.0,248.0 C1045.0,251.3 1040.0,254.3 1036.0,258.0 C1032.0,261.7 1026.8,265.7 1024.0,270.0 C1021.2,274.3 1020.0,280.5 1019.0,284.0 C1018.0,287.5 1018.0,289.8 1018.0,291.0 C1018.0,292.2 1019.7,289.2 1019.0,291.0 C1018.3,292.8 1014.7,297.8 1014.0,302.0 C1013.3,306.2 1012.8,311.0 1015.0,316.0 C1017.2,321.0 1022.5,327.5 1027.0,332.0 C1031.5,336.5 1038.5,339.3 1042.0,343.0 C1045.5,346.7 1048.2,350.3 1048.0,354.0 C1047.8,357.7 1040.5,361.2 1041.0,365.0 C1041.5,368.8 1046.3,372.5 1051.0,377.0 C1055.7,381.5 1063.7,386.8 1069.0,392.0 C1074.3,397.2 1077.0,402.7 1083.0,408.0 C1089.0,413.3 1098.3,419.5 1105.0,424.0 C1111.7,428.5 1118.8,431.3 1123.0,435.0 C1127.2,438.7 1128.2,443.2 1130.0,446.0 C1131.8,448.8 1131.0,449.0 1134.0,452.0 C1137.0,455.0 1144.0,460.0 1148.0,464.0 C1152.0,468.0 1154.0,473.3 1158.0,476.0 C1162.0,478.7 1168.5,477.3 1172.0,480.0 C1175.5,482.7 1178.3,487.3 1179.0,492.0 C1179.7,496.7 1177.5,503.3 1176.0,508.0 C1174.5,512.7 1170.0,514.7 1170.0,520.0 C1170.0,525.3 1174.8,534.0 1176.0,540.0 C1177.2,546.0 1176.0,550.7 1177.0,556.0 C1178.0,561.3 1181.2,567.3 1182.0,572.0 C1182.8,576.7 1183.0,579.7 1182.0,584.0 C1181.0,588.3 1177.3,595.0 1176.0,598.0 C1174.7,601.0 1174.7,598.8 1174.0,602.0 C1173.3,605.2 1173.1,612.3 1172.0,617.0 C1170.9,621.7 1167.8,625.7 1167.5,630.0 C1167.2,634.3 1171.1,639.0 1170.0,643.0 C1168.9,647.0 1164.7,650.8 1161.0,654.0 C1157.3,657.2 1152.3,658.8 1148.0,662.0 C1143.7,665.2 1140.8,669.3 1135.0,673.0 C1129.2,676.7 1119.5,680.3 1113.0,684.0 C1106.5,687.7 1101.3,692.2 1096.0,695.0 C1090.7,697.8 1083.8,701.3 1081.0,701.0 C1078.2,700.7 1080.8,694.8 1079.0,693.0 C1077.2,691.2 1073.0,690.2 1070.0,690.5 C1067.0,690.8 1062.8,692.4 1061.0,695.0 C1059.2,697.6 1061.8,704.6 1059.0,706.0 C1056.2,707.4 1050.2,705.0 1044.0,703.5 C1037.8,702.0 1027.8,699.6 1022.0,697.0 C1016.2,694.4 1011.5,690.8 1009.0,688.0 C1006.5,685.2 1005.2,682.0 1007.0,680.0 C1008.8,678.0 1016.7,677.2 1020.0,676.0 C1023.3,674.8 1025.2,675.3 1027.0,673.0 C1028.8,670.7 1029.7,666.7 1031.0,662.0 C1032.3,657.3 1032.7,649.3 1035.0,645.0 C1037.3,640.7 1041.5,638.5 1045.0,636.0 C1048.5,633.5 1052.2,631.8 1056.0,630.0 C1059.8,628.2 1064.2,627.2 1068.0,625.0 C1071.8,622.8 1075.0,620.8 1079.0,617.0 C1083.0,613.2 1088.8,605.5 1092.0,602.0 C1095.2,598.5 1095.3,600.3 1098.0,596.0 C1100.7,591.7 1107.0,582.0 1108.0,576.0 C1109.0,570.0 1105.7,566.0 1104.0,560.0 C1102.3,554.0 1098.3,546.7 1098.0,540.0 C1097.7,533.3 1102.0,526.0 1102.0,520.0 C1102.0,514.0 1097.7,510.0 1098.0,504.0 C1098.3,498.0 1103.7,489.7 1104.0,484.0 C1104.3,478.3 1103.0,474.7 1100.0,470.0 C1097.0,465.3 1086.7,459.7 1086.0,456.0 C1085.3,452.3 1095.8,451.8 1096.0,448.0 C1096.2,444.2 1092.2,438.2 1087.0,433.0 C1081.8,427.8 1069.0,422.3 1065.0,417.0 C1061.0,411.7 1065.7,406.2 1063.0,401.0 C1060.3,395.8 1054.7,391.2 1049.0,386.0 C1043.3,380.8 1034.7,375.7 1029.0,370.0 C1023.3,364.3 1020.3,357.3 1015.0,352.0 C1009.7,346.7 1001.5,343.7 997.0,338.0 C992.5,332.3 993.5,323.3 988.0,318.0 C982.5,312.7 970.8,309.2 964.0,306.0 C957.2,302.8 950.2,301.8 947.0,299.0 C943.8,296.2 944.2,291.7 945.0,289.0 C945.8,286.3 948.2,284.5 952.0,283.0 C955.8,281.5 963.0,282.2 968.0,280.0 C973.0,277.8 979.0,273.7 982.0,270.0 C985.0,266.3 986.3,261.7 986.0,258.0 C985.7,254.3 982.7,250.7 980.0,248.0 C977.3,245.3 972.0,244.3 970.0,242.0 C968.0,239.7 969.7,237.3 968.0,234.0 C966.3,230.7 963.5,224.5 960.0,222.0 C956.5,219.5 950.8,218.5 947.0,219.0 C943.2,219.5 940.7,223.7 937.0,225.0 C933.3,226.3 930.0,228.3 925.0,227.0 C920.0,225.7 912.0,220.7 907.0,217.0 C902.0,213.3 897.5,209.2 895.0,205.0 C892.5,200.8 894.5,196.2 892.0,192.0 C889.5,187.8 882.0,183.3 880.0,180.0 C878.0,176.7 876.7,174.0 880.0,172.0 C883.3,170.0 890.8,170.3 900.0,168.0 C909.2,165.7 927.5,162.7 935.0,158.0 C942.5,153.3 940.8,143.8 945.0,140.0 C949.2,136.2 955.5,137.5 960.0,135.0 C964.5,132.5 967.8,128.8 972.0,125.0 C976.2,121.2 981.0,114.5 985.0,112.0 C989.0,109.5 993.0,109.7 996.0,110.0Z M990.0,690.5 C985.5,688.8 980.3,694.1 976.0,696.0 C971.7,697.9 965.3,699.8 964.0,702.0 C962.7,704.2 966.6,707.0 968.0,709.0 C969.4,711.0 970.2,712.7 972.5,714.0 C974.8,715.3 978.8,716.2 982.0,717.0 C985.2,717.8 990.5,717.8 992.0,719.0 C993.5,720.2 991.3,722.7 991.0,724.0 C990.7,725.3 991.2,725.8 990.0,727.0 C988.8,728.2 985.8,729.5 984.0,731.0 C982.2,732.5 980.2,733.7 979.0,736.0 C977.8,738.3 977.7,741.0 977.0,745.0 C976.3,749.0 975.7,755.3 975.0,760.0 C974.3,764.7 972.2,769.8 973.0,773.0 C973.8,776.2 977.7,777.8 980.0,779.0 C982.3,780.2 983.7,781.3 987.0,780.0 C990.3,778.7 995.7,774.3 1000.0,771.0 C1004.3,767.7 1008.7,763.5 1013.0,760.0 C1017.3,756.5 1022.5,753.0 1026.0,750.0 C1029.5,747.0 1033.2,744.3 1034.0,742.0 C1034.8,739.7 1032.2,737.7 1031.0,736.0 C1029.8,734.3 1029.5,734.8 1027.0,732.0 C1024.5,729.2 1020.0,723.3 1016.0,719.0 C1012.0,714.7 1007.3,710.8 1003.0,706.0 C998.7,701.2 994.5,692.2 990.0,690.5Z M1014.0,703.5 C1014.5,702.5 1016.0,702.2 1017.0,702.0 C1018.0,701.8 1018.2,700.8 1020.0,702.0 C1021.8,703.2 1025.5,706.6 1028.0,709.0 C1030.5,711.4 1032.8,714.2 1035.0,716.5 C1037.2,718.8 1039.2,720.8 1041.0,723.0 C1042.8,725.2 1044.3,727.8 1046.0,729.5 C1047.7,731.2 1049.5,732.1 1051.0,733.0 C1052.5,733.9 1054.7,734.3 1055.0,735.0 C1055.3,735.7 1053.8,736.5 1053.0,737.0 C1052.2,737.5 1052.0,738.5 1050.5,738.0 C1049.0,737.5 1046.2,735.4 1044.0,734.0 C1041.8,732.6 1039.8,731.5 1037.5,729.5 C1035.2,727.5 1032.6,724.6 1030.0,722.0 C1027.4,719.4 1024.2,715.8 1022.0,714.0 C1019.8,712.2 1018.3,712.0 1017.0,711.0 C1015.7,710.0 1014.5,709.2 1014.0,708.0 C1013.5,706.8 1013.5,704.5 1014.0,703.5Z M1058,716 a5,5 0 1,0 -10,0 a5,5 0 1,0 10,0Z" fill="url(#spkr)"/>
<g font-weight="bold" font-style="italic">
<text transform="translate(65.00,814.55) scale(3.0000,3.6264)" font-family="'Liberation Serif',serif" font-size="100" fill="#b0f1f5" stroke="#b0f1f5" stroke-width="2.41" stroke-linejoin="round">‘</text>
<text transform="translate(148.00,814.55) scale(3.0000,3.6264)" font-family="'Liberation Serif',serif" font-size="100" fill="#b0f1f5" stroke="#b0f1f5" stroke-width="2.41" stroke-linejoin="round">‘</text>
<text transform="translate(775.68,909.06) scale(2.8421,3.1667)" font-family="'Liberation Serif',serif" font-size="100" fill="#a8f0f5" stroke="#a8f0f5" stroke-width="3.99" stroke-linejoin="round">’</text>
<text transform="translate(857.68,904.69) scale(2.8421,3.2667)" font-family="'Liberation Serif',serif" font-size="100" fill="#a8f0f5" stroke="#a8f0f5" stroke-width="3.93" stroke-linejoin="round">’</text>
</g>
<ellipse cx="937" cy="705" rx="3.2" ry="8" fill="#a9b9bd" transform="rotate(-22 937 705)"/>
<rect x="50.5" y="184" width="920" height="7.3" fill="#000" opacity=".3"/>
<rect x="50.5" y="107" width="920" height="77" fill="#9c2738"/>
<g clip-path="url(#cban)"><path d="M996.0,110.0 C999.0,110.3 1000.7,112.5 1003.0,114.0 C1005.3,115.5 1006.3,117.2 1010.0,119.0 C1013.7,120.8 1020.0,123.7 1025.0,125.0 C1030.0,126.3 1034.7,126.7 1040.0,127.0 C1045.3,127.3 1053.5,126.2 1057.0,127.0 C1060.5,127.8 1060.5,130.3 1061.0,132.0 C1061.5,133.7 1061.0,134.8 1060.0,137.0 C1059.0,139.2 1056.0,142.8 1055.0,145.0 C1054.0,147.2 1053.5,147.2 1054.0,150.0 C1054.5,152.8 1056.3,158.7 1058.0,162.0 C1059.7,165.3 1061.0,167.7 1064.0,170.0 C1067.0,172.3 1072.7,173.7 1076.0,176.0 C1079.3,178.3 1080.7,182.0 1084.0,184.0 C1087.3,186.0 1092.0,187.0 1096.0,188.0 C1100.0,189.0 1107.7,188.3 1108.0,190.0 C1108.3,191.7 1101.3,194.7 1098.0,198.0 C1094.7,201.3 1090.3,207.2 1088.0,210.0 C1085.7,212.8 1086.7,213.8 1084.0,215.0 C1081.3,216.2 1076.0,217.3 1072.0,217.0 C1068.0,216.7 1062.5,213.2 1060.0,213.0 C1057.5,212.8 1056.7,214.5 1057.0,216.0 C1057.3,217.5 1061.7,220.0 1062.0,222.0 C1062.3,224.0 1060.3,225.3 1059.0,228.0 C1057.7,230.7 1055.8,234.7 1054.0,238.0 C1052.2,241.3 1051.0,244.7 1048.0,248.0 C1045.0,251.3 1040.0,254.3 1036.0,258.0 C1032.0,261.7 1026.8,265.7 1024.0,270.0 C1021.2,274.3 1020.0,280.5 1019.0,284.0 C1018.0,287.5 1018.0,289.8 1018.0,291.0 C1018.0,292.2 1019.7,289.2 1019.0,291.0 C1018.3,292.8 1014.7,297.8 1014.0,302.0 C1013.3,306.2 1012.8,311.0 1015.0,316.0 C1017.2,321.0 1022.5,327.5 1027.0,332.0 C1031.5,336.5 1038.5,339.3 1042.0,343.0 C1045.5,346.7 1048.2,350.3 1048.0,354.0 C1047.8,357.7 1040.5,361.2 1041.0,365.0 C1041.5,368.8 1046.3,372.5 1051.0,377.0 C1055.7,381.5 1063.7,386.8 1069.0,392.0 C1074.3,397.2 1077.0,402.7 1083.0,408.0 C1089.0,413.3 1098.3,419.5 1105.0,424.0 C1111.7,428.5 1118.8,431.3 1123.0,435.0 C1127.2,438.7 1128.2,443.2 1130.0,446.0 C1131.8,448.8 1131.0,449.0 1134.0,452.0 C1137.0,455.0 1144.0,460.0 1148.0,464.0 C1152.0,468.0 1154.0,473.3 1158.0,476.0 C1162.0,478.7 1168.5,477.3 1172.0,480.0 C1175.5,482.7 1178.3,487.3 1179.0,492.0 C1179.7,496.7 1177.5,503.3 1176.0,508.0 C1174.5,512.7 1170.0,514.7 1170.0,520.0 C1170.0,525.3 1174.8,534.0 1176.0,540.0 C1177.2,546.0 1176.0,550.7 1177.0,556.0 C1178.0,561.3 1181.2,567.3 1182.0,572.0 C1182.8,576.7 1183.0,579.7 1182.0,584.0 C1181.0,588.3 1177.3,595.0 1176.0,598.0 C1174.7,601.0 1174.7,598.8 1174.0,602.0 C1173.3,605.2 1173.1,612.3 1172.0,617.0 C1170.9,621.7 1167.8,625.7 1167.5,630.0 C1167.2,634.3 1171.1,639.0 1170.0,643.0 C1168.9,647.0 1164.7,650.8 1161.0,654.0 C1157.3,657.2 1152.3,658.8 1148.0,662.0 C1143.7,665.2 1140.8,669.3 1135.0,673.0 C1129.2,676.7 1119.5,680.3 1113.0,684.0 C1106.5,687.7 1101.3,692.2 1096.0,695.0 C1090.7,697.8 1083.8,701.3 1081.0,701.0 C1078.2,700.7 1080.8,694.8 1079.0,693.0 C1077.2,691.2 1073.0,690.2 1070.0,690.5 C1067.0,690.8 1062.8,692.4 1061.0,695.0 C1059.2,697.6 1061.8,704.6 1059.0,706.0 C1056.2,707.4 1050.2,705.0 1044.0,703.5 C1037.8,702.0 1027.8,699.6 1022.0,697.0 C1016.2,694.4 1011.5,690.8 1009.0,688.0 C1006.5,685.2 1005.2,682.0 1007.0,680.0 C1008.8,678.0 1016.7,677.2 1020.0,676.0 C1023.3,674.8 1025.2,675.3 1027.0,673.0 C1028.8,670.7 1029.7,666.7 1031.0,662.0 C1032.3,657.3 1032.7,649.3 1035.0,645.0 C1037.3,640.7 1041.5,638.5 1045.0,636.0 C1048.5,633.5 1052.2,631.8 1056.0,630.0 C1059.8,628.2 1064.2,627.2 1068.0,625.0 C1071.8,622.8 1075.0,620.8 1079.0,617.0 C1083.0,613.2 1088.8,605.5 1092.0,602.0 C1095.2,598.5 1095.3,600.3 1098.0,596.0 C1100.7,591.7 1107.0,582.0 1108.0,576.0 C1109.0,570.0 1105.7,566.0 1104.0,560.0 C1102.3,554.0 1098.3,546.7 1098.0,540.0 C1097.7,533.3 1102.0,526.0 1102.0,520.0 C1102.0,514.0 1097.7,510.0 1098.0,504.0 C1098.3,498.0 1103.7,489.7 1104.0,484.0 C1104.3,478.3 1103.0,474.7 1100.0,470.0 C1097.0,465.3 1086.7,459.7 1086.0,456.0 C1085.3,452.3 1095.8,451.8 1096.0,448.0 C1096.2,444.2 1092.2,438.2 1087.0,433.0 C1081.8,427.8 1069.0,422.3 1065.0,417.0 C1061.0,411.7 1065.7,406.2 1063.0,401.0 C1060.3,395.8 1054.7,391.2 1049.0,386.0 C1043.3,380.8 1034.7,375.7 1029.0,370.0 C1023.3,364.3 1020.3,357.3 1015.0,352.0 C1009.7,346.7 1001.5,343.7 997.0,338.0 C992.5,332.3 993.5,323.3 988.0,318.0 C982.5,312.7 970.8,309.2 964.0,306.0 C957.2,302.8 950.2,301.8 947.0,299.0 C943.8,296.2 944.2,291.7 945.0,289.0 C945.8,286.3 948.2,284.5 952.0,283.0 C955.8,281.5 963.0,282.2 968.0,280.0 C973.0,277.8 979.0,273.7 982.0,270.0 C985.0,266.3 986.3,261.7 986.0,258.0 C985.7,254.3 982.7,250.7 980.0,248.0 C977.3,245.3 972.0,244.3 970.0,242.0 C968.0,239.7 969.7,237.3 968.0,234.0 C966.3,230.7 963.5,224.5 960.0,222.0 C956.5,219.5 950.8,218.5 947.0,219.0 C943.2,219.5 940.7,223.7 937.0,225.0 C933.3,226.3 930.0,228.3 925.0,227.0 C920.0,225.7 912.0,220.7 907.0,217.0 C902.0,213.3 897.5,209.2 895.0,205.0 C892.5,200.8 894.5,196.2 892.0,192.0 C889.5,187.8 882.0,183.3 880.0,180.0 C878.0,176.7 876.7,174.0 880.0,172.0 C883.3,170.0 890.8,170.3 900.0,168.0 C909.2,165.7 927.5,162.7 935.0,158.0 C942.5,153.3 940.8,143.8 945.0,140.0 C949.2,136.2 955.5,137.5 960.0,135.0 C964.5,132.5 967.8,128.8 972.0,125.0 C976.2,121.2 981.0,114.5 985.0,112.0 C989.0,109.5 993.0,109.7 996.0,110.0Z" fill="#8b1a29"/></g>
<line x1="361.8" y1="200.4" x2="361.8" y2="616" stroke="#141b20" stroke-width="3.4" stroke-linecap="round" stroke-dasharray="0 14.79"/>
<line x1="665.2" y1="200.4" x2="665.2" y2="616" stroke="#141b20" stroke-width="3.4" stroke-linecap="round" stroke-dasharray="0 14.79"/>
<g filter="url(#t18)">
<text class="cb" transform="translate(49.56,82.10) scale(0.47,1)" font-size="76.38" letter-spacing="14.27" fill="#2e3d49">GLOBAL</text>
<text class="cb" transform="translate(257.17,82.10) scale(0.47,1)" font-size="76.38" letter-spacing="11.79" fill="#2e3d49">HEALTH</text>
<text class="cb" transform="translate(454.02,82.10) scale(0.47,1)" font-size="76.38" letter-spacing="14.88" fill="#2e3d49">SECURITY</text>
<text class="cb" transform="translate(705.60,82.10) scale(0.47,1)" font-size="76.38" letter-spacing="14.13" fill="#2e3d49">AGENDA:</text>
<text class="cb" transform="translate(935.07,82.10) scale(0.47,1)" font-size="76.38" letter-spacing="17.01" fill="#2e3d49">VIETNAM</text>
</g>
<g filter="url(#t13)">
<text class="cb" transform="translate(88.23,162.50) scale(0.5,1)" font-size="54.35" letter-spacing="14.26" fill="#fdf6f6">TRAINING</text>
<text class="cb" transform="translate(289.73,162.50) scale(0.5,1)" font-size="54.35" letter-spacing="13.97" fill="#fdf6f6">DISEASE</text>
<text class="cb" transform="translate(475.73,162.50) scale(0.5,1)" font-size="54.35" letter-spacing="11.79" fill="#fdf6f6">DETECTIVES</text>
<text class="cb" transform="translate(720.68,162.50) scale(0.5,1)" font-size="54.35" letter-spacing="14.62" fill="#fdf6f6">SINCE</text>
<text class="cb" transform="translate(854.05,162.50) scale(0.5,1)" font-size="54.35" letter-spacing="18.63" fill="#fdf6f6">2009</text>
</g>
<g filter="url(#t09)">
<text class="cb" transform="translate(65.44,532.30) scale(0.58,1)" font-size="32.17" letter-spacing="3.33" fill="#2b3a45">FIELD</text>
<text class="cb" transform="translate(137.04,532.30) scale(0.58,1)" font-size="32.17" letter-spacing="3.56" fill="#2b3a45">EPIDEMIOLOGY</text>
<text class="cb" transform="translate(73.86,566.90) scale(0.58,1)" font-size="32.17" letter-spacing="3.34" fill="#2b3a45">TRAINING</text>
<text class="cb" transform="translate(187.24,566.90) scale(0.58,1)" font-size="32.17" letter-spacing="3.45" fill="#2b3a45">PROGRAM</text>
<text class="cb" transform="translate(93.02,601.20) scale(0.58,1)" font-size="32.17" letter-spacing="3.89" fill="#2b3a45">(FETP)</text>
<text class="cb" transform="translate(176.00,601.20) scale(0.58,1)" font-size="32.17" letter-spacing="1.98" fill="#2b3a45">COHORTS</text>
<text class="cb" transform="translate(472.98,532.30) scale(0.58,1)" font-size="32.17" letter-spacing="4.03" fill="#2b3a45">ALUMNI</text>
<text class="cb" transform="translate(741.08,532.30) scale(0.58,1)" font-size="32.17" letter-spacing="2.04" fill="#2b3a45">ACTIVE</text>
<text class="cb" transform="translate(826.74,532.30) scale(0.58,1)" font-size="32.17" letter-spacing="2.73" fill="#2b3a45">FELLOWS</text>
<text class="cb" transform="translate(715.93,566.50) scale(0.58,1)" font-size="32.17" letter-spacing="5.26" fill="#2b3a45">12</text>
<text class="cb" transform="translate(750.48,566.50) scale(0.58,1)" font-size="32.17" letter-spacing="2.01" fill="#2b3a45">ACTIVE</text>
<text class="cb" transform="translate(834.84,566.50) scale(0.58,1)" font-size="32.17" letter-spacing="3.59" fill="#2b3a45">PART-TIME</text>
<text class="cb" transform="translate(753.61,601.20) scale(0.58,1)" font-size="32.17" letter-spacing="0.00" fill="#2b3a45">&amp;</text>
<text class="cb" transform="translate(777.10,601.20) scale(0.58,1)" font-size="32.17" letter-spacing="0.00" fill="#2b3a45">2</text>
<text class="cb" transform="translate(799.84,601.20) scale(0.58,1)" font-size="32.17" letter-spacing="3.52" fill="#2b3a45">FULL-TIME</text>
</g>
<g filter="url(#t06)">
<text class="cb" transform="translate(463.22,765.00) scale(0.6,1)" font-size="23.77" letter-spacing="0.00" fill="#a51d30">–</text>
<text class="cb" transform="translate(472.47,765.00) scale(0.6,1)" font-size="23.77" letter-spacing="-1.83" fill="#a51d30">Dr.</text>
<text class="cb" transform="translate(496.51,765.00) scale(0.6,1)" font-size="23.77" letter-spacing="-4.80" fill="#a51d30">Tu</text>
<text class="cb" transform="translate(516.54,765.00) scale(0.6,1)" font-size="23.77" letter-spacing="-0.27" fill="#a51d30">Anh</text>
<text class="cb" transform="translate(549.01,765.00) scale(0.6,1)" font-size="23.77" letter-spacing="0.04" fill="#a51d30">Tran</text>
</g>
<text class="cb" transform="translate(1107.66,778.00) scale(0.62,1)" font-size="13.77" letter-spacing="1.99" fill="#8fa3a8">CS256813-AH</text>
<g fill="#ae2b3e">
<text transform="translate(134.91,337.50) scale(1.8298,1.7424)" font-family="'Liberation Mono',monospace" font-weight="bold" font-size="100" fill="url(#spkn)" stroke="#ae2b3e" stroke-width="1.68" stroke-linejoin="miter">7</text><rect x="159.5" y="320" width="45.5" height="19"/><rect x="145" y="221" width="20" height="36.5"/>
<text transform="translate(414.13,337.50) scale(1.6448,1.7463)" font-family="'Liberation Mono',monospace" font-weight="bold" font-size="100" fill="url(#spkn)" stroke="#ae2b3e" stroke-width="1.77" stroke-linejoin="miter">2</text><text transform="translate(515.69,337.50) scale(1.6345,1.7463)" font-family="'Liberation Mono',monospace" font-weight="bold" font-size="100" fill="url(#spkn)" stroke="#ae2b3e" stroke-width="1.77" stroke-linejoin="miter">2</text><rect x="485" y="309" width="20" height="30"/><rect x="586" y="309" width="20" height="30"/>
<text transform="translate(744.70,336.25) scale(0.8864,1.5411)" font-family="'DejaVu Sans',sans-serif" font-weight="bold" font-size="100" fill="url(#spkn)" stroke="#ae2b3e" stroke-width="2.88" stroke-linejoin="miter">1</text><rect x="755.6" y="320" width="46.4" height="18"/><text transform="translate(812.97,336.50) scale(1.6584,1.7121)" font-family="'Liberation Mono',monospace" font-weight="bold" font-size="100" fill="url(#spkn)" stroke="#ae2b3e" stroke-width="1.78" stroke-linejoin="miter">4</text><rect x="862.4" y="320" width="40.6" height="18"/>
</g>
<text class="q" transform="translate(185.08,664.5) scale(0.9524,1)" font-size="18.6" fill="#2a3944" stroke="#2a3944" stroke-width=".3">“Clearly, being an FETP fellow and having the chance to work with CDC is</text>
<text class="q" transform="translate(181.90,694.5) scale(0.9392,1)" font-size="18.6" fill="#2a3944" stroke="#2a3944" stroke-width=".3">one of the greatest opportunities in my life. It helped me improve my career</text>
<text class="q" transform="translate(199.11,723.6) scale(0.9529,1)" font-size="18.6" fill="#2a3944" stroke="#2a3944" stroke-width=".3">in public health regarding my knowledge, skills and working manners.”</text>
<clipPath id="c1"><path d="M70.19999999999999,476.7 A118,118 0 0 1 306.2,476.7Z"/></clipPath>
<rect x="70.19999999999999" y="476.7" width="236" height="8.8" fill="#0a2830" opacity=".26"/>
<path d="M70.19999999999999,476.7 A118,118 0 0 1 306.2,476.7Z" fill="#35454f"/>
<g clip-path="url(#c1)">
<path d="M198.8,383.7 L300,484.9 L232,484.9 L180,436 L168,425 L181,405 L184.2,398.3Z" fill="#1b1f26"/>
<path d="M103.6,441.2 L153.6,491.2 L129.8,491.2 L92.0,453.4Z" fill="#1b1f26"/>
<path d="M101.8,460 L129.8,488 L97.8,488Z" fill="#1b1f26"/>
<path d="M133.6,441.2 L183.6,491.2 L159.8,491.2 L122.0,453.4Z" fill="#1b1f26"/>
<path d="M131.8,460 L159.8,488 L127.8,488Z" fill="#1b1f26"/>
<path d="M163.6,441.2 L213.6,491.2 L189.8,491.2 L152.0,453.4Z" fill="#1b1f26"/>
<path d="M161.8,460 L189.8,488 L157.8,488Z" fill="#1b1f26"/>
<path d="M193.6,441.2 L243.6,491.2 L219.8,491.2 L182.0,453.4Z" fill="#1b1f26"/>
<path d="M191.8,460 L219.8,488 L187.8,488Z" fill="#1b1f26"/>
<path d="M223.6,441.2 L273.6,491.2 L249.8,491.2 L212.0,453.4Z" fill="#1b1f26"/>
<path d="M221.8,460 L249.8,488 L217.8,488Z" fill="#1b1f26"/>
<path d="M253.6,441.2 L303.6,491.2 L279.8,491.2 L242.0,453.4Z" fill="#1b1f26"/>
<path d="M251.8,460 L279.8,488 L247.8,488Z" fill="#1b1f26"/>
<path d="M283.6,441.2 L333.6,491.2 L309.8,491.2 L272.0,453.4Z" fill="#1b1f26"/>
<path d="M281.8,460 L309.8,488 L277.8,488Z" fill="#1b1f26"/>
<g fill="#ba3546" stroke="#ba3546" stroke-linejoin="round">
<circle cx="191.5" cy="391" r="10.3" stroke="none"/>
<path d="M183,404 L199.3,404 L200,441 L181.5,441Z" stroke-width="1.5"/>
<path d="M184.5,406.5 L168.8,422.5 L180.5,432.5" fill="none" stroke-width="7" stroke-linecap="butt"/>
<path d="M197.5,406.5 L213.8,425 L227,418" fill="none" stroke-width="6.6" stroke-linecap="butt"/>
</g>
<path d="M189.8,403.4 L192.3,411 L194.4,403.4" fill="none" stroke="#1b1f26" stroke-width="1.3"/>
<path d="M175.3,446 A13.3,13.3 0 0 1 201.9,446" fill="none" stroke="#1b1f26" stroke-width="3.8"/>
<g fill="#ba3546">
<ellipse cx="97.8" cy="447.6" rx="8.3" ry="10.6"/>
<path d="M93.6,455 L102.0,455 L102.4,461.5 Q104.3,465 109.3,467 Q112.8,468.3 113.3,471 L82.3,471 Q82.8,468.3 86.3,467 Q91.3,465 93.2,461.5Z"/>
<ellipse cx="127.8" cy="447.6" rx="8.3" ry="10.6"/>
<path d="M123.6,455 L132.0,455 L132.4,461.5 Q134.3,465 139.3,467 Q142.8,468.3 143.3,471 L112.3,471 Q112.8,468.3 116.3,467 Q121.3,465 123.2,461.5Z"/>
<ellipse cx="157.8" cy="447.6" rx="8.3" ry="10.6"/>
<path d="M153.6,455 L162.0,455 L162.4,461.5 Q164.3,465 169.3,467 Q172.8,468.3 173.3,471 L142.3,471 Q142.8,468.3 146.3,467 Q151.3,465 153.2,461.5Z"/>
<ellipse cx="187.8" cy="447.6" rx="8.3" ry="10.6"/>
<path d="M183.6,455 L192.0,455 L192.4,461.5 Q194.3,465 199.3,467 Q202.8,468.3 203.3,471 L172.3,471 Q172.8,468.3 176.3,467 Q181.3,465 183.2,461.5Z"/>
<ellipse cx="217.8" cy="447.6" rx="8.3" ry="10.6"/>
<path d="M213.6,455 L222.0,455 L222.4,461.5 Q224.3,465 229.3,467 Q232.8,468.3 233.3,471 L202.3,471 Q202.8,468.3 206.3,467 Q211.3,465 213.2,461.5Z"/>
<ellipse cx="247.8" cy="447.6" rx="8.3" ry="10.6"/>
<path d="M243.6,455 L252.0,455 L252.4,461.5 Q254.3,465 259.3,467 Q262.8,468.3 263.3,471 L232.3,471 Q232.8,468.3 236.3,467 Q241.3,465 243.2,461.5Z"/>
<ellipse cx="277.8" cy="447.6" rx="8.3" ry="10.6"/>
<path d="M273.6,455 L282.0,455 L282.4,461.5 Q284.3,465 289.3,467 Q292.8,468.3 293.3,471 L262.3,471 Q262.8,468.3 266.3,467 Q271.3,465 273.2,461.5Z"/>
<path d="M80,477 L84.5,470 L291,470 L295.5,477Z"/>
</g></g>
<clipPath id="c2"><path d="M398,476.7 A118,118 0 0 1 634,476.7Z"/></clipPath>
<rect x="398" y="476.7" width="236" height="8.8" fill="#0a2830" opacity=".26"/>
<path d="M398,476.7 A118,118 0 0 1 634,476.7Z" fill="#35454f"/>
<g clip-path="url(#c2)">
<path d="M520,376.2 L583,401 L683,501 L486,490 L460,462.5 L448,453.5 L460,440 L464.5,431 L465,420 L467,407 L457,401Z" fill="#1b1f26"/>
<g fill="#ba3546">
<path d="M486,410 L486,445 Q488,456.6 520,456.6 Q552.5,456.6 554.5,445 L554.5,410Z"/>
</g>
<path d="M457,401 L520,432.5 L583,401 L583,407 L520,440 L468,413.5Z" fill="#1b1f26"/>
<g fill="#ba3546">
<path d="M520,376.2 L583,401 L520,432.5 L457,401Z"/>
<path d="M466,405.5 L472.5,408.5 Q477,411 476.5,418 Q475.5,426 478,432.5 Q479,441 473.5,453.5 L460,462.5 L448,453.5 Q458,444 464.5,431 Q462.5,425 465,420 Q468.5,412 466,405.5Z"/>
</g>
<path d="M465.5,431.5 Q471,428 477.5,432" fill="none" stroke="#1b1f26" stroke-width=".9" opacity=".6"/>
<path d="M481,397.2 L520,383 L560.5,397.2 L520,387.8Z" fill="#1b1f26"/>
</g>
<clipPath id="c3"><path d="M716.1,476.7 A118,118 0 0 1 952.1,476.7Z"/></clipPath>
<rect x="716.1" y="476.7" width="236" height="8.8" fill="#0a2830" opacity=".26"/>
<path d="M716.1,476.7 A118,118 0 0 1 952.1,476.7Z" fill="#35454f"/>
<g clip-path="url(#c3)">
<line x1="745.1" y1="443.0" x2="885.1" y2="583.0" stroke="#1b1f26" stroke-width="28.0"/>
<line x1="788.4" y1="443.0" x2="928.4" y2="583.0" stroke="#1b1f26" stroke-width="28.0"/>
<line x1="831.3" y1="443.0" x2="971.3" y2="583.0" stroke="#1b1f26" stroke-width="28.0"/>
<line x1="874.7" y1="443.0" x2="1014.7" y2="583.0" stroke="#1b1f26" stroke-width="28.0"/>
<line x1="918.0" y1="443.0" x2="1058.0" y2="583.0" stroke="#1b1f26" stroke-width="28.0"/>
<line x1="765.7" y1="414.8" x2="905.7" y2="554.8" stroke="#1b1f26" stroke-width="21.6"/>
<line x1="810.1" y1="414.8" x2="950.1" y2="554.8" stroke="#1b1f26" stroke-width="21.6"/>
<line x1="854.1" y1="414.8" x2="994.1" y2="554.8" stroke="#1b1f26" stroke-width="21.6"/>
<line x1="898.5" y1="414.8" x2="1038.5" y2="554.8" stroke="#1b1f26" stroke-width="21.6"/>
<line x1="787.3" y1="393.1" x2="927.3" y2="533.1" stroke="#1b1f26" stroke-width="16.4"/>
<line x1="831.8" y1="393.1" x2="971.8" y2="533.1" stroke="#1b1f26" stroke-width="16.4"/>
<line x1="875.5" y1="393.1" x2="1015.5" y2="533.1" stroke="#1b1f26" stroke-width="16.4"/>
<line x1="809.7" y1="375.8" x2="949.7" y2="515.8" stroke="#1b1f26" stroke-width="13.0"/>
<line x1="852.3" y1="375.8" x2="992.3" y2="515.8" stroke="#1b1f26" stroke-width="13.0"/>
<rect x="716" y="459" width="236" height="18" fill="#1b1f26"/>
<g fill="#ba3546">
<circle cx="809.7" cy="375.8" r="6.5"/>
<circle cx="852.3" cy="375.8" r="6.5"/>
<circle cx="787.3" cy="393.1" r="8.2"/>
<circle cx="831.8" cy="393.1" r="8.2"/>
<circle cx="875.5" cy="393.1" r="8.2"/>
<circle cx="765.7" cy="414.8" r="10.8"/>
<circle cx="810.1" cy="414.8" r="10.8"/>
<circle cx="854.1" cy="414.8" r="10.8"/>
<circle cx="898.5" cy="414.8" r="10.8"/>
<circle cx="745.1" cy="443.0" r="14.0"/>
<circle cx="788.4" cy="443.0" r="14.0"/>
<circle cx="831.3" cy="443.0" r="14.0"/>
<circle cx="874.7" cy="443.0" r="14.0"/>
<circle cx="918.0" cy="443.0" r="14.0"/>
<path d="M725,476.7 L725,464.4 Q725,459.4 730,459.4 L740.6,459.4 L745.1,465.5 L749.6,459.4 L759.7,459.4 Q764.7,459.4 764.7,464.4 L764.7,476.7Z"/>
<path d="M768.3,476.7 L768.3,464.4 Q768.3,459.4 773.3,459.4 L783.9,459.4 L788.4,465.5 L792.9,459.4 L803.0,459.4 Q808.0,459.4 808.0,464.4 L808.0,476.7Z"/>
<path d="M811.6,476.7 L811.6,464.4 Q811.6,459.4 816.6,459.4 L826.8,459.4 L831.3,465.5 L835.8,459.4 L846.3000000000001,459.4 Q851.3000000000001,459.4 851.3000000000001,464.4 L851.3000000000001,476.7Z"/>
<path d="M855,476.7 L855,464.4 Q855,459.4 860,459.4 L870.2,459.4 L874.7,465.5 L879.2,459.4 L889.7,459.4 Q894.7,459.4 894.7,464.4 L894.7,476.7Z"/>
<path d="M898.3,476.7 L898.3,464.4 Q898.3,459.4 903.3,459.4 L913.5,459.4 L918.0,465.5 L922.5,459.4 L933.0,459.4 Q938.0,459.4 938.0,464.4 L938.0,476.7Z"/>
</g></g>
<clipPath id="cv"><path d="M996.0,110.0 C999.0,110.3 1000.7,112.5 1003.0,114.0 C1005.3,115.5 1006.3,117.2 1010.0,119.0 C1013.7,120.8 1020.0,123.7 1025.0,125.0 C1030.0,126.3 1034.7,126.7 1040.0,127.0 C1045.3,127.3 1053.5,126.2 1057.0,127.0 C1060.5,127.8 1060.5,130.3 1061.0,132.0 C1061.5,133.7 1061.0,134.8 1060.0,137.0 C1059.0,139.2 1056.0,142.8 1055.0,145.0 C1054.0,147.2 1053.5,147.2 1054.0,150.0 C1054.5,152.8 1056.3,158.7 1058.0,162.0 C1059.7,165.3 1061.0,167.7 1064.0,170.0 C1067.0,172.3 1072.7,173.7 1076.0,176.0 C1079.3,178.3 1080.7,182.0 1084.0,184.0 C1087.3,186.0 1092.0,187.0 1096.0,188.0 C1100.0,189.0 1107.7,188.3 1108.0,190.0 C1108.3,191.7 1101.3,194.7 1098.0,198.0 C1094.7,201.3 1090.3,207.2 1088.0,210.0 C1085.7,212.8 1086.7,213.8 1084.0,215.0 C1081.3,216.2 1076.0,217.3 1072.0,217.0 C1068.0,216.7 1062.5,213.2 1060.0,213.0 C1057.5,212.8 1056.7,214.5 1057.0,216.0 C1057.3,217.5 1061.7,220.0 1062.0,222.0 C1062.3,224.0 1060.3,225.3 1059.0,228.0 C1057.7,230.7 1055.8,234.7 1054.0,238.0 C1052.2,241.3 1051.0,244.7 1048.0,248.0 C1045.0,251.3 1040.0,254.3 1036.0,258.0 C1032.0,261.7 1026.8,265.7 1024.0,270.0 C1021.2,274.3 1020.0,280.5 1019.0,284.0 C1018.0,287.5 1018.0,289.8 1018.0,291.0 C1018.0,292.2 1019.7,289.2 1019.0,291.0 C1018.3,292.8 1014.7,297.8 1014.0,302.0 C1013.3,306.2 1012.8,311.0 1015.0,316.0 C1017.2,321.0 1022.5,327.5 1027.0,332.0 C1031.5,336.5 1038.5,339.3 1042.0,343.0 C1045.5,346.7 1048.2,350.3 1048.0,354.0 C1047.8,357.7 1040.5,361.2 1041.0,365.0 C1041.5,368.8 1046.3,372.5 1051.0,377.0 C1055.7,381.5 1063.7,386.8 1069.0,392.0 C1074.3,397.2 1077.0,402.7 1083.0,408.0 C1089.0,413.3 1098.3,419.5 1105.0,424.0 C1111.7,428.5 1118.8,431.3 1123.0,435.0 C1127.2,438.7 1128.2,443.2 1130.0,446.0 C1131.8,448.8 1131.0,449.0 1134.0,452.0 C1137.0,455.0 1144.0,460.0 1148.0,464.0 C1152.0,468.0 1154.0,473.3 1158.0,476.0 C1162.0,478.7 1168.5,477.3 1172.0,480.0 C1175.5,482.7 1178.3,487.3 1179.0,492.0 C1179.7,496.7 1177.5,503.3 1176.0,508.0 C1174.5,512.7 1170.0,514.7 1170.0,520.0 C1170.0,525.3 1174.8,534.0 1176.0,540.0 C1177.2,546.0 1176.0,550.7 1177.0,556.0 C1178.0,561.3 1181.2,567.3 1182.0,572.0 C1182.8,576.7 1183.0,579.7 1182.0,584.0 C1181.0,588.3 1177.3,595.0 1176.0,598.0 C1174.7,601.0 1174.7,598.8 1174.0,602.0 C1173.3,605.2 1173.1,612.3 1172.0,617.0 C1170.9,621.7 1167.8,625.7 1167.5,630.0 C1167.2,634.3 1171.1,639.0 1170.0,643.0 C1168.9,647.0 1164.7,650.8 1161.0,654.0 C1157.3,657.2 1152.3,658.8 1148.0,662.0 C1143.7,665.2 1140.8,669.3 1135.0,673.0 C1129.2,676.7 1119.5,680.3 1113.0,684.0 C1106.5,687.7 1101.3,692.2 1096.0,695.0 C1090.7,697.8 1083.8,701.3 1081.0,701.0 C1078.2,700.7 1080.8,694.8 1079.0,693.0 C1077.2,691.2 1073.0,690.2 1070.0,690.5 C1067.0,690.8 1062.8,692.4 1061.0,695.0 C1059.2,697.6 1061.8,704.6 1059.0,706.0 C1056.2,707.4 1050.2,705.0 1044.0,703.5 C1037.8,702.0 1027.8,699.6 1022.0,697.0 C1016.2,694.4 1011.5,690.8 1009.0,688.0 C1006.5,685.2 1005.2,682.0 1007.0,680.0 C1008.8,678.0 1016.7,677.2 1020.0,676.0 C1023.3,674.8 1025.2,675.3 1027.0,673.0 C1028.8,670.7 1029.7,666.7 1031.0,662.0 C1032.3,657.3 1032.7,649.3 1035.0,645.0 C1037.3,640.7 1041.5,638.5 1045.0,636.0 C1048.5,633.5 1052.2,631.8 1056.0,630.0 C1059.8,628.2 1064.2,627.2 1068.0,625.0 C1071.8,622.8 1075.0,620.8 1079.0,617.0 C1083.0,613.2 1088.8,605.5 1092.0,602.0 C1095.2,598.5 1095.3,600.3 1098.0,596.0 C1100.7,591.7 1107.0,582.0 1108.0,576.0 C1109.0,570.0 1105.7,566.0 1104.0,560.0 C1102.3,554.0 1098.3,546.7 1098.0,540.0 C1097.7,533.3 1102.0,526.0 1102.0,520.0 C1102.0,514.0 1097.7,510.0 1098.0,504.0 C1098.3,498.0 1103.7,489.7 1104.0,484.0 C1104.3,478.3 1103.0,474.7 1100.0,470.0 C1097.0,465.3 1086.7,459.7 1086.0,456.0 C1085.3,452.3 1095.8,451.8 1096.0,448.0 C1096.2,444.2 1092.2,438.2 1087.0,433.0 C1081.8,427.8 1069.0,422.3 1065.0,417.0 C1061.0,411.7 1065.7,406.2 1063.0,401.0 C1060.3,395.8 1054.7,391.2 1049.0,386.0 C1043.3,380.8 1034.7,375.7 1029.0,370.0 C1023.3,364.3 1020.3,357.3 1015.0,352.0 C1009.7,346.7 1001.5,343.7 997.0,338.0 C992.5,332.3 993.5,323.3 988.0,318.0 C982.5,312.7 970.8,309.2 964.0,306.0 C957.2,302.8 950.2,301.8 947.0,299.0 C943.8,296.2 944.2,291.7 945.0,289.0 C945.8,286.3 948.2,284.5 952.0,283.0 C955.8,281.5 963.0,282.2 968.0,280.0 C973.0,277.8 979.0,273.7 982.0,270.0 C985.0,266.3 986.3,261.7 986.0,258.0 C985.7,254.3 982.7,250.7 980.0,248.0 C977.3,245.3 972.0,244.3 970.0,242.0 C968.0,239.7 969.7,237.3 968.0,234.0 C966.3,230.7 963.5,224.5 960.0,222.0 C956.5,219.5 950.8,218.5 947.0,219.0 C943.2,219.5 940.7,223.7 937.0,225.0 C933.3,226.3 930.0,228.3 925.0,227.0 C920.0,225.7 912.0,220.7 907.0,217.0 C902.0,213.3 897.5,209.2 895.0,205.0 C892.5,200.8 894.5,196.2 892.0,192.0 C889.5,187.8 882.0,183.3 880.0,180.0 C878.0,176.7 876.7,174.0 880.0,172.0 C883.3,170.0 890.8,170.3 900.0,168.0 C909.2,165.7 927.5,162.7 935.0,158.0 C942.5,153.3 940.8,143.8 945.0,140.0 C949.2,136.2 955.5,137.5 960.0,135.0 C964.5,132.5 967.8,128.8 972.0,125.0 C976.2,121.2 981.0,114.5 985.0,112.0 C989.0,109.5 993.0,109.7 996.0,110.0Z M990.0,690.5 C985.5,688.8 980.3,694.1 976.0,696.0 C971.7,697.9 965.3,699.8 964.0,702.0 C962.7,704.2 966.6,707.0 968.0,709.0 C969.4,711.0 970.2,712.7 972.5,714.0 C974.8,715.3 978.8,716.2 982.0,717.0 C985.2,717.8 990.5,717.8 992.0,719.0 C993.5,720.2 991.3,722.7 991.0,724.0 C990.7,725.3 991.2,725.8 990.0,727.0 C988.8,728.2 985.8,729.5 984.0,731.0 C982.2,732.5 980.2,733.7 979.0,736.0 C977.8,738.3 977.7,741.0 977.0,745.0 C976.3,749.0 975.7,755.3 975.0,760.0 C974.3,764.7 972.2,769.8 973.0,773.0 C973.8,776.2 977.7,777.8 980.0,779.0 C982.3,780.2 983.7,781.3 987.0,780.0 C990.3,778.7 995.7,774.3 1000.0,771.0 C1004.3,767.7 1008.7,763.5 1013.0,760.0 C1017.3,756.5 1022.5,753.0 1026.0,750.0 C1029.5,747.0 1033.2,744.3 1034.0,742.0 C1034.8,739.7 1032.2,737.7 1031.0,736.0 C1029.8,734.3 1029.5,734.8 1027.0,732.0 C1024.5,729.2 1020.0,723.3 1016.0,719.0 C1012.0,714.7 1007.3,710.8 1003.0,706.0 C998.7,701.2 994.5,692.2 990.0,690.5Z M1014.0,703.5 C1014.5,702.5 1016.0,702.2 1017.0,702.0 C1018.0,701.8 1018.2,700.8 1020.0,702.0 C1021.8,703.2 1025.5,706.6 1028.0,709.0 C1030.5,711.4 1032.8,714.2 1035.0,716.5 C1037.2,718.8 1039.2,720.8 1041.0,723.0 C1042.8,725.2 1044.3,727.8 1046.0,729.5 C1047.7,731.2 1049.5,732.1 1051.0,733.0 C1052.5,733.9 1054.7,734.3 1055.0,735.0 C1055.3,735.7 1053.8,736.5 1053.0,737.0 C1052.2,737.5 1052.0,738.5 1050.5,738.0 C1049.0,737.5 1046.2,735.4 1044.0,734.0 C1041.8,732.6 1039.8,731.5 1037.5,729.5 C1035.2,727.5 1032.6,724.6 1030.0,722.0 C1027.4,719.4 1024.2,715.8 1022.0,714.0 C1019.8,712.2 1018.3,712.0 1017.0,711.0 C1015.7,710.0 1014.5,709.2 1014.0,708.0 C1013.5,706.8 1013.5,704.5 1014.0,703.5Z M1058,716 a5,5 0 1,0 -10,0 a5,5 0 1,0 10,0Z"/></clipPath><g clip-path="url(#cv)">
<ellipse cx="1012" cy="212.5" rx="12" ry="4.2" fill="#5e0d18" opacity=".75" filter="url(#blur3)"/>
<ellipse cx="1162" cy="527" rx="12" ry="4.2" fill="#5e0d18" opacity=".75" filter="url(#blur3)"/>
<ellipse cx="1125.6" cy="588" rx="12" ry="4.2" fill="#5e0d18" opacity=".75" filter="url(#blur3)"/>
<ellipse cx="1163" cy="607.6" rx="12" ry="4.2" fill="#5e0d18" opacity=".75" filter="url(#blur3)"/>
<ellipse cx="1054" cy="669" rx="12" ry="4.2" fill="#5e0d18" opacity=".75" filter="url(#blur3)"/>
<ellipse cx="1016" cy="682" rx="12" ry="4.2" fill="#5e0d18" opacity=".75" filter="url(#blur3)"/>
</g>
<path d="M1012,205.5 C1008.5,195.5 998.4,187.5 998.4,178.1 A13.6,13.6 0 1 1 1025.6,178.1 C1025.6,187.5 1015.5,195.5 1012,205.5Z" fill="#35464f"/>
<path d="M1162,520 C1158.5,510 1148.4,502 1148.4,492.6 A13.6,13.6 0 1 1 1175.6,492.6 C1175.6,502 1165.5,510 1162,520Z" fill="#35464f" stroke="#c32d43" stroke-width="4.4" stroke-linejoin="round" paint-order="stroke"/>
<path d="M1125.6,581 C1122.1,571 1112.0,563 1112.0,553.6 A13.6,13.6 0 1 1 1139.1999999999998,553.6 C1139.1999999999998,563 1129.1,571 1125.6,581Z" fill="#35464f" stroke="#c32d43" stroke-width="4.4" stroke-linejoin="round" paint-order="stroke"/>
<path d="M1163,600.6 C1159.5,590.6 1149.4,582.6 1149.4,573.2 A13.6,13.6 0 1 1 1176.6,573.2 C1176.6,582.6 1166.5,590.6 1163,600.6Z" fill="#35464f" stroke="#c32d43" stroke-width="4.4" stroke-linejoin="round" paint-order="stroke"/>
<path d="M1054,662 C1050.5,652 1040.4,644 1040.4,634.6 A13.6,13.6 0 1 1 1067.6,634.6 C1067.6,644 1057.5,652 1054,662Z" fill="#35464f" stroke="#c32d43" stroke-width="4.4" stroke-linejoin="round" paint-order="stroke"/>
<path d="M1016,675 C1012.5,665 1002.4,657 1002.4,647.6 A13.6,13.6 0 1 1 1029.6,647.6 C1029.6,657 1019.5,665 1016,675Z" fill="#35464f" stroke="#c32d43" stroke-width="4.4" stroke-linejoin="round" paint-order="stroke"/>
<g>
<rect x="21.7" y="717.8" width="113.7" height="64.8" rx="9" fill="#1c3fa6"/>
<clipPath id="ccdc"><rect x="84.3" y="737.9" width="41.8" height="25.4"/></clipPath>
<rect x="84.3" y="737.9" width="41.8" height="25.4" fill="#2448b0"/>
<g clip-path="url(#ccdc)" stroke="#fff" stroke-width=".55" opacity=".8"><line x1="84.3" y1="763.5" x2="98.0" y2="737.5"/><line x1="86.9" y1="763.5" x2="103.2" y2="737.5"/><line x1="89.5" y1="763.5" x2="108.4" y2="737.5"/><line x1="92.1" y1="763.5" x2="113.6" y2="737.5"/><line x1="94.7" y1="763.5" x2="118.8" y2="737.5"/><line x1="97.3" y1="763.5" x2="124.0" y2="737.5"/><line x1="99.9" y1="763.5" x2="129.2" y2="737.5"/><line x1="102.5" y1="763.5" x2="134.4" y2="737.5"/><line x1="105.1" y1="763.5" x2="139.6" y2="737.5"/><line x1="107.7" y1="763.5" x2="144.8" y2="737.5"/><line x1="110.3" y1="763.5" x2="150.0" y2="737.5"/><line x1="112.9" y1="763.5" x2="155.2" y2="737.5"/><line x1="115.5" y1="763.5" x2="160.4" y2="737.5"/><line x1="118.1" y1="763.5" x2="165.6" y2="737.5"/><line x1="120.7" y1="763.5" x2="170.8" y2="737.5"/><line x1="123.3" y1="763.5" x2="176.0" y2="737.5"/></g>
<rect x="84.3" y="737.9" width="41.8" height="25.4" fill="none" stroke="#fff" stroke-width="1"/>
<text x="105.3" y="757.4" text-anchor="middle" font-family="'Liberation Serif',serif" font-weight="bold" font-size="18" fill="#fff" stroke="#fff" stroke-width=".7" textLength="36.5" lengthAdjust="spacingAndGlyphs">CDC</text>
<g fill="none" stroke="#fff" stroke-linecap="round" stroke-width="1.9">
<path d="M71,731.5 C68.5,741 58.5,746 55,756.5"/><path d="M74.5,735.5 C71.5,745 62,750 59,760"/><path d="M77,741.5 C74,750 66,754.5 63,764.5"/>
<path d="M42.5,760.5 C50,760 56.5,763 62,768 C66,763.5 72,761 77.5,762.5"/>
<path d="M62,768 C61,772 58.5,774 56.5,775.5"/><path d="M65.5,768.5 C65,772 63.5,774 61.5,775.3"/>
</g>
<path id="hhsarc" d="M46.5,774 A24,24 0 0 1 70.5,731.5" fill="none"/>
<text font-size="3.1" fill="#fff" font-family="'Liberation Sans',sans-serif" font-weight="bold" letter-spacing=".25"><textPath href="#hhsarc">DEPARTMENT OF HEALTH &amp; HUMAN SERVICES USA</textPath></text>
</g>
</svg></body></html>
